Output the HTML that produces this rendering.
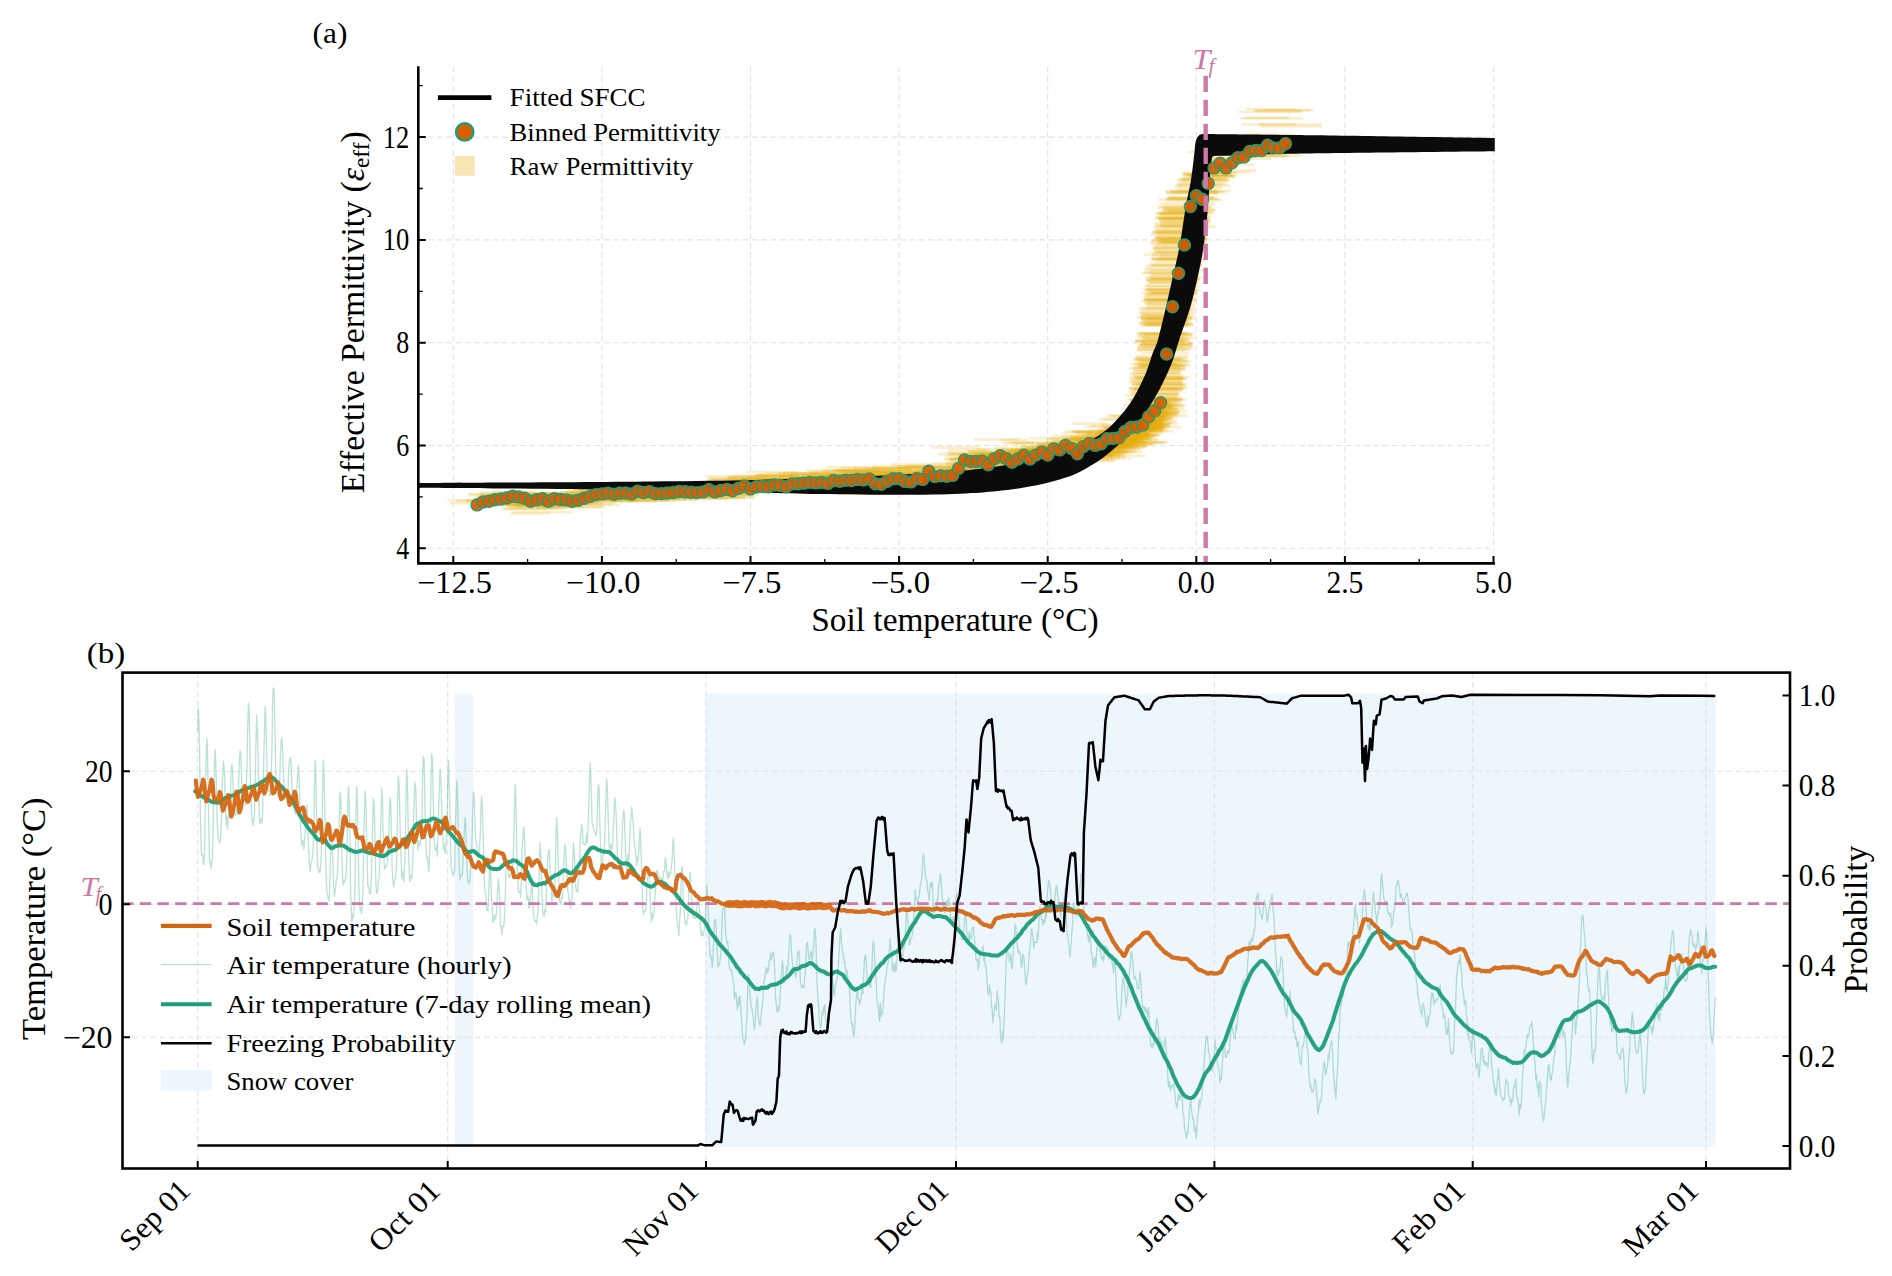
<!DOCTYPE html>
<html lang="en"><head><meta charset="utf-8"><title>SFCC fit and freezing probability</title>
<style>
html,body{margin:0;padding:0;background:#fff;}
body{width:1892px;height:1276px;overflow:hidden;}
svg{display:block;font-family:'Liberation Serif', 'DejaVu Serif', serif;}
</style></head><body>
<svg width="1892" height="1276" viewBox="0 0 1892 1276">
<rect width="1892" height="1276" fill="#fff"/>
<g id="panelA">
<path d="M453.3 66.6V563.4M601.9 66.6V563.4M750.5 66.6V563.4M899.1 66.6V563.4M1047.7 66.6V563.4M1196.3 66.6V563.4M1344.9 66.6V563.4M1493.5 66.6V563.4M418.3 548.3H1493.7M418.3 445.5H1493.7M418.3 342.7H1493.7M418.3 239.9H1493.7M418.3 137.1H1493.7" stroke="#e3e3e3" stroke-width="1.1" stroke-dasharray="5.9 3.37" fill="none"/>
<g stroke="#E6AB02" stroke-width="2.6" stroke-opacity="0.2" fill="none">
<path d="M447.3 500.3h55.3M490 496.1h58M541.3 503.6h42.9M570 497.9h32.7M580.3 491h57.3M636.1 493.6h27.6M635.8 493.8h55.9M638.9 488.4h50.1M662.7 491.6h39.2M722.2 488.6h33.5M717.3 483.7h34.9M746.8 487.2h39.3M772.8 485.9h26.3M786.8 484.8h26.9M803.1 480.1h45.5M826.4 475.2h39.7M837.5 483.3h45.1M893.9 476.9h26.2M891.7 477.3h43.5M924.3 471.2h31.5M940.9 469.1h36.2M977.6 466h27.1M978.8 454h48M1005.7 450.2h42.3M1014.3 455.3h52.5M1041 448h41.1M1075.6 441h31.7M1073.3 431.9h55.2M1102.6 426.8h39.3M1117.3 421.7h45.1M1122.6 418.4h50.2M842.9 471.3h67.3M707.3 479.2h46.9M743 484.1h66.8M754.3 487.7h48.1M820.4 480.5h55.2M880.6 475.4h55.9M744.1 484.4h38.7M873.2 481.1h40M825.6 476h52M918.4 479.4h50.9M825.1 482.1h57.1M787.4 479h62.7M593.3 492.3h40.9M700.5 490.2h62.2M612.7 492.1h61.3M524.2 500.4h37.6M505.3 503.4h68.6M685 497.3h38.8M683.4 482.2h53.1M1127.9 427.5h32M1135.3 414.9h18.2M1080.9 459.1h28M1102.8 442.3h32M1141.7 420.9h19.1M1137.7 431.5h18.5M1132.7 424h33.3M1136.9 421h17.7M1143.5 431.2h18.1M1127.4 425.2h34.9M1094.3 447.7h20.4M1120.5 425.8h30.1M1090.8 455.5h33.2M1097.6 458.5h33.5M1123.8 435.9h24.5M1114.8 444.9h15.5M1139.9 428.5h16.9M1102.1 446.4h32.2M1128 440.2h23.5M973.6 468.6h29.8M999.3 458.8h40.2M1057 445.9h49.7M1074 445.6h35M1017.1 451.4h42.7M1000.8 439.7h27.9M1138.4 398.4h44.1M1156.5 244.1h43.3M1154.2 240h47.2M1134.6 340.6h51.5M1153.8 251.8h45.2M1163.6 206.6h47.1M1152.3 232.7h54.3M1139.1 362.2h48.9M1168.9 212.5h45.2M1146 279.4h45.7M1157.2 230.4h49M1151.4 240.8h53.4M1133.8 377.1h46.8M1153.4 226.7h51.8M1150.8 270.2h53.2M1201.5 176.2h34.6M1242.9 140.2h32.2M1260.6 126.4h60.9"/>
<path d="M450 503.1h39.4M500.1 501.6h59M560.5 502h26.8M576 497.3h26.8M595.1 488.4h40.5M598 490.3h47M627.5 490.3h57.3M649.4 487.5h41.2M669.6 487.3h54.6M687.2 489.3h57.8M718.4 487.6h35.3M742.5 482.1h33.9M754.7 483.5h53.5M789.5 484.4h34M791.7 481.5h59.2M827.9 479.4h52.1M850.3 478.8h46.9M859.9 476h58.7M907 475.7h32.5M915.2 473.9h43.4M940.1 473.8h47.4M946 467.2h57.2M958.4 462.3h52.3M1013.5 450.7h45.3M1033.1 457.2h53M1029.7 438.3h59.2M1055.8 447.9h56.2M1075.9 439.3h53.8M1098.9 419.8h37.4M1103.7 429.9h49.8M1134.7 412.7h44.6M795.2 492.4h41.2M891.4 479.7h64.8M721.5 485h54M688.3 484.9h65.4M871.7 468.4h41.7M830.2 474.2h64.9M845.5 482h48.9M774.1 488.2h62M924.9 472.1h37.3M897.9 467.6h38.1M764.5 483.2h62.1M842.8 472.8h46.3M651.4 487.8h53.5M572.9 489.2h61.1M558.1 498.2h47.2M635.8 499.8h61M609.2 496.2h64.2M531 504.4h45.3M661.2 492.4h56M1141.8 415.3h33.6M1102.3 438.9h34.8M1105.1 434.8h30.6M1127.5 433.3h21.8M1087.9 444.1h28.7M1136.2 426.7h18.5M1128.8 432.1h15.8M1127.2 422.1h16.5M1147.2 405.3h23.7M1129 423.8h26.9M1112.1 426.1h30.6M1127.2 431.3h19.3M1087.1 451.3h19.3M1101.5 434.1h30M1110.9 436.3h15.4M1132.6 420.1h16.2M1099.8 440.3h35.1M1094.1 452.3h25.8M1089.3 444.4h25.5M1021.9 457.5h45.2M1032.3 446.5h45.6M1046.7 444.9h41.5M975.9 460.3h50.6M1000.4 458h31.2M1017.8 454.2h52.5M1151 234.4h46M1132.4 385.1h52.9M1160.7 242.6h46.1M1141.6 364.6h45.6M1157 208h53.6M1145.2 333.6h50.1M1161.3 216h50.6M1147.7 293.6h43.1M1130.6 405.4h51.9M1146.9 280h53.1M1141.8 311.9h54M1137.5 348.5h54.5M1134.3 389.9h44.6M1142.9 337.9h44.1M1182.9 176.3h51.8M1245.5 143.3h41.5M1192.1 158.3h49.4"/>
<path d="M456.2 501h28.2M513.3 494.9h33.5M551.4 500.4h26.3M587 498.2h26.8M602.3 498.2h39.2M603.3 493.5h30.8M647.4 489.7h53.4M664.9 490.4h35.7M676.2 489.7h29.8M698 491.1h33.6M710.1 480.6h56.7M732.4 483.9h59.1M761.1 490.1h41.5M783.6 481h41.4M799.2 484.1h52.7M825.3 475h57.5M864.4 475.8h31M883.4 473.6h42.5M907.6 471.6h29.5M902 471h44.2M931 471h57.1M953.9 468.2h43.2M997.7 462.2h36.2M1010.9 462.5h31M1025.7 454.5h45.4M1069.8 448.2h34.7M1075.6 432.7h28M1092.4 441.7h38.5M1100.2 431.1h40.7M1109.7 435.8h46.6M1135.4 415.6h52.4M765.1 486.5h42.4M762.7 490.1h53.3M818.6 477.6h49.4M863.1 476.7h66.1M839.8 481.9h63M853.5 468.2h53.3M824.1 480.7h55.8M906.3 474.4h57.2M731 484.4h45.4M807.8 475h44.8M747.3 483.5h63.3M924.7 471.3h41.3M513.8 504h68.4M576.6 501.2h59.8M545.8 499.4h58.4M599.8 488.7h50.6M605.2 497.9h46.2M676.1 490.9h68.6M647.4 493.2h41.1M1133.9 418h26.9M1112.6 436.4h27.3M1103.6 448h35.2M1150.9 411.8h15.8M1148 404.1h29.2M1101.7 452h35.1M1111.2 449.9h24.6M1142.2 410.6h14.3M1134.7 425.9h21.7M1132.7 436.7h20.8M1104.5 442h22.5M1126 441.5h17.4M1099.1 451.9h23M1117.5 444.7h17M1087.1 447.6h27.6M1078.3 454.2h34.2M1088.5 448.3h33.3M1108.3 437h32.3M1141.5 418.9h19M1051 448.7h31.9M1069.7 438h49.1M1084.3 438.7h27.5M1046.2 443.2h53.2M1062.7 438.9h26.4M1004.8 459.6h24.6M1128.8 378.9h54.1M1157.5 258.1h43.5M1183.2 178.4h43.9M1155 225.2h50.3M1134.7 358.3h46.6M1145.4 278.6h54.2M1130 388.9h53.9M1157.9 232.6h47M1145 277h52.1M1125.4 395.4h54.4M1166.8 197.9h47.7M1173.9 199h45.9M1157.8 241.4h46.7M1150.8 265h50.9M1136 403.6h46.1M1222.1 152.7h39.5M1253.7 149h30.6"/>
<path d="M473.4 499.3h31.6M506.3 497h33M546.9 498.4h41.9M565.8 497.3h43.2M584.8 497.2h58.9M591.7 496h53.9M638.7 489.8h35.1M653.7 484.8h30.4M671.6 489.8h48.9M692 492.7h57.7M731.4 489h27M726 482.9h53.4M772.1 485.5h44.5M782.7 480.1h29.7M799.9 483.1h45.4M829.1 478h46.4M854.2 481.1h57.1M872.1 477.1h42.6M895.7 475.8h38.9M922.5 475.6h47.4M926 467.3h53.7M986.3 472.1h27.3M983.8 462.5h40.5M1004.1 453.9h47.6M1020.8 446.5h43.5M1045.3 455h56.3M1085.7 437.4h33.2M1094.5 439h43.5M1103.1 418.6h56.5M1121.9 433.1h34.2M1138.4 405.9h40.9M732.9 482.9h58.1M913.1 482.9h44.3M841.3 468.1h55.9M839.3 473.4h37.4M888.6 479.1h39.7M813 484.1h41.3M790.4 477.6h39.7M715.7 485.1h55.2M811.2 481h45M705.2 488.2h41.5M759 488.4h63.2M882.4 468.1h66.7M575.7 492.1h43.3M562.6 498.3h58.1M681.9 494.5h42.9M610.5 492.3h71.3M535.7 507.4h65.6M502.9 505.5h57M561.2 492.3h36.8M1114.9 446.7h31.9M1143.9 402.1h22.7M1127 430.5h31.5M1122.3 427h30.4M1083.1 455.5h32.2M1130.2 427.7h34.6M1132.9 438.7h18.7M1139.6 428.2h26.2M1115.4 434.4h16.3M1090.1 455.7h15.7M1112.4 434.2h28M1132.9 427.2h34.5M1140.7 420.2h28.4M1106.2 453.4h18.9M1135.1 423.8h19.9M1142.1 417.5h24.1M1143.8 404.1h24.4M1135.9 424.5h33.1M1131.7 430.1h31.4M1053.5 453.3h51.3M1052 441.5h41.3M945.1 459.2h44.8M1041.9 458.1h33.2M1055.7 442.9h50.3M978.7 459.7h27.5M1182.8 174.5h54.6M1150.4 292.2h46.8M1154.1 239.2h53.1M1152.5 247.1h46M1130.5 405.9h46.7M1144.6 325.4h44.2M1178.6 179.8h51.5M1131.1 364h46.9M1137.3 340.6h51.4M1135.2 411.5h50.3M1135.6 406.5h48.1M1158.4 217.9h50.1M1167.6 209.6h46.4M1165.5 199h44.3M1165.4 192.4h52.6M1192.4 179h33.7M1206.2 160.7h36.9"/>
<path d="M471.9 501.4h26.2M502.2 501.2h54.1M549.5 500.8h37M572.5 488.7h52.4M588.5 496h49.7M613.5 488.6h45.6M637.3 491h33.2M666.1 492.8h36.1M686.2 487.1h47.7M709.4 487.9h33.2M702.8 484.6h58M759.4 482.7h27.5M772.7 489.3h29.1M802.6 479.5h29.2M835 482.3h40.9M828.6 484.7h53.2M862.3 483.9h27.1M877.3 481.6h34.8M890.9 471h50.6M912.4 472.7h39.8M947.1 452.5h30.8M965.1 462.6h37.4M995.1 466.1h28M1003.9 462.7h39M1022.5 461.8h32.4M1057.7 447.6h52.3M1071.4 449.6h34.7M1097.6 446.6h30.2M1109.5 425.9h27.9M1124.5 423.3h38.9M1132.4 408.4h31M827.8 484.5h58.4M785.5 481.1h46.7M770 482.7h42M754.4 476.3h43.2M767.2 483.3h37.8M758.3 482.9h60.2M741.7 478.6h39.7M872.3 466.3h59.7M813.8 487.9h71M756.4 482.5h49.9M914.4 477.9h54.3M758.3 481.6h45.7M703.2 486.3h45.4M615.1 493.7h45.1M588.2 493.6h48.9M670.8 491.5h47.6M535.3 498.7h39.3M696.3 497.4h59.1M572.7 498.9h67.4M1131.8 418.3h34.8M1117 426.1h35.4M1129.4 439.8h29.5M1135.8 437.5h16.6M1115 430.6h17.2M1149.4 415.3h15.6M1109.2 437.6h16.5M1137.6 429.6h27M1114.3 426.3h34.2M1078.9 454.5h16.7M1118.9 433.4h28.5M1130.4 420.2h33.6M1136 413.1h34.4M1107.8 438.8h23M1137.2 422.6h24.8M1100.8 438.7h25.4M1148.3 413.7h24.2M1093.3 436.5h28.8M1103.6 428.3h23.5M958.5 453.8h26.3M1037 455.5h40.1M1036 446.6h29.2M1053.8 447h28.5M946.6 465.8h45.1M977.4 461.8h52M1148.9 264.1h51.4M1132.8 389.9h48.9M1154.1 260.8h51.3M1128.6 400h54.2M1151.8 259h44.3M1151.4 256.1h46.7M1137.1 350h52.6M1154.6 237.8h49M1133.7 359.5h47.2M1155.8 262h44.4M1166.8 193.5h51.2M1138.5 365.4h52.4M1138 350h48M1128.7 381.9h54.1M1166.5 198.4h47.3M1204.9 164.4h33.3M1239.2 150.1h45.5"/>
<path d="M465.9 500.3h38.3M493.4 503.9h52.8M537.1 503.5h52.3M580.6 494.4h35M606.2 495h37.7M600.4 487.2h49.2M650.3 493.8h43.6M662.9 490.9h34.8M676.6 490.6h44.5M712.5 488h27.9M735.4 482.5h34.5M738.8 486.1h32.5M752.6 487.5h42.9M801.7 484.3h27.5M829.2 477.6h27.8M833 478.1h36.1M855 477.4h47.3M893.5 475h33.3M891.9 479.6h47.4M908.6 472.4h48.9M944.2 456.4h26.7M951.5 458h41.9M978.1 459.9h30.1M998.3 456.2h52.3M1024.4 453.9h49.5M1040.1 450.3h59M1066.5 443.9h59.1M1088.5 441.4h55M1083.6 449.5h57.3M1132.3 425.8h37.9M1145.7 419.3h29.1M705.2 476.4h50.3M892 479.1h52.9M889.4 473.8h47.1M896.1 468.3h62.4M762.9 479.3h42.7M732 483.5h51.5M893.2 479.8h44.7M757 475.6h42.6M700.7 487.7h55.7M737.4 485.1h57.2M913.1 472.9h40.4M567.1 505h53M538.9 506.5h45.1M687.4 486.6h52.5M508 508.2h51.4M614.5 496.6h35.9M512.6 502.1h63.6M511.3 493.4h47.5M514 501h56.3M1119.3 436.7h34.5M1096.7 447h32M1134.7 414.8h20.2M1108.3 434.4h28.1M1112.2 441.7h15.5M1106.9 454.7h14.5M1131.3 434.2h17M1142 421.6h15.9M1132.1 424.3h32.2M1116.9 431.2h35M1142.2 421.1h19.3M1102.4 450.1h19.1M1121.5 438.6h15.4M1122 435.9h15.9M1095.5 450.9h34.1M1111.5 433.2h29.6M1131 428.7h30M1135.3 432.6h15.3M1112.7 452.1h29.5M950.3 461.5h47.5M1004.9 443h29.2M1025.9 447.4h43.8M1062.6 436.3h38.3M1047.2 445.6h34M1040.9 453.3h34.5M1147.3 281.5h47.1M1129.3 374.1h50.8M1139.2 386.8h47.3M1146.3 287.9h50.8M1135.3 363.2h46.5M1161 210.5h46.8M1147.9 288.9h43M1129.6 377.4h53.7M1145.5 298.7h43.6M1134.9 342.1h51.3M1133.1 399.4h53.8M1150.6 279.9h43.7M1144.5 322.9h42.9M1183.2 173.9h48.1M1141.2 343.2h51.8M1240.6 154.5h44.8M1237.8 158.6h33.5"/>
<path d="M468.4 495.1h46.6M503.7 497h56.4M553.9 497.7h34.4M577.8 489.2h35.2M594.1 492h28.5M615.5 490.1h30.6M632.7 491.3h53.5M637.4 491.6h44.7M678.1 486.6h33.9M698.1 486h56.1M714 487.6h57M743.2 482.4h57.1M765.6 481.6h43.5M787.7 482.1h50.6M820.5 478.7h47.4M836.8 471.3h52.2M864 484.7h28.3M882.2 479.1h29.8M905.2 476.5h39.1M924 479.5h30.2M931.7 447.4h48M966.5 473.5h33.2M976.9 456h56.7M999.1 462.9h28.2M1038.1 453.2h39.6M1035.9 445.7h51.3M1087 433.7h29.4M1080.8 443.3h38.8M1099.4 431.4h47.2M1119.9 421.4h44.7M1123.3 405.2h54.2M880.8 478.8h35.8M875.6 475.7h48.4M846.2 471.9h48.6M709.1 485.7h62.3M855.6 481h47.2M914.2 472.1h51.3M715.7 487h53.1M801.8 475.8h39.7M865.8 470.1h58.2M885 477.5h61.8M691.2 492.1h63.3M681.5 489.2h57M513.9 496.2h50.2M653 498.8h43.6M575.9 496.4h50.2M706.9 491.5h46.8M700 497.6h44.9M597.1 495h42M542.8 507h61M1095.2 436.1h19.7M1101.1 445.9h18M1094.4 456.9h31.2M1146.2 414.4h30.8M1124 447.3h15.1M1143.4 419.7h19.9M1099.7 453h27.9M1084.9 455.5h22.8M1156.4 400.8h19.6M1135.6 428.4h18.1M1079.3 454.3h24.1M1130.7 428h18.9M1146.5 413h20.5M1128.3 422.6h21.9M1123.6 427.9h29.1M1128.5 432.2h15.8M1098.3 441.2h16.6M1143 424.7h21.5M1147.3 410.8h21.3M1035.7 444.2h42.8M968 451.1h24.6M1078.7 450.8h36.7M976.4 454.9h51.4M1068 440.6h48M1069.6 446.1h49.4M1168.3 197.2h44.7M1139.9 310h53.5M1155.5 252.4h47M1181.6 181.2h46.8M1140.6 314.1h44.2M1145.8 313.8h47.6M1158.7 199.6h51M1141 300.7h45.1M1151.4 259.2h49.3M1156.5 238.7h50.6M1134.6 388.3h43M1161.8 206.1h50.1M1158.4 206.5h54.2M1154.6 223.1h54.3M1146.6 265.7h53.8M1190.1 175.8h36.2M1202.5 164.7h51.7"/>
<path d="M472.4 499.1h37.7M514.9 499.4h42.1M556.3 501h43.1M570.8 491.7h56.5M599.3 493.4h31.6M612.4 491h54M635.4 498h49.6M658.4 491.7h31.5M687.9 487.7h36.3M699.7 485.3h59.4M722.7 483h50.7M746.2 489.3h41.1M775.5 481.8h42.5M793.7 480.9h28M804.7 476.1h48.2M834.9 478.5h54.3M837.6 485.6h53.4M865 478.7h52.4M899.7 474.9h52.5M934.3 471.4h28M950.3 460h30.9M964 469.7h44.6M977.9 459.3h39M1000.6 451.1h53.7M1046.8 451.8h27.6M1054.8 441.2h36.1M1081 448.1h28.1M1095.6 438.4h55.2M1118.2 437.3h28.5M1109.3 430.7h59M1135.2 401.3h33M756.7 475.1h65.7M727.8 480h70.3M810.7 473.7h46.3M885.1 480.7h45.7M802.3 477.7h48.6M733.2 481.8h61.4M824 476.9h43.7M705.7 490.6h39.6M839.8 482.3h48.6M909.8 476.8h57.1M767.2 479.8h71M590.7 489.4h56.3M616.1 493.3h48.6M519.8 501.9h68.7M627.2 497.9h64.6M544.5 496.5h66.3M683 489.3h60.1M665.4 486.2h46.3M515.3 505.9h44.4M1142.3 421.8h19.2M1147.3 410.8h24M1116.6 444.9h17.3M1111.1 445.2h34.4M1143 424.1h16.6M1116.9 448.2h17.8M1133.7 423.4h23.7M1069.4 454.3h30.2M1122.1 442.3h14.7M1092.7 437.1h20.8M1137.7 424.3h16.3M1081 452.5h23.7M1103.5 440.6h35M1133.6 429h23.6M1112.9 436.7h29.6M1115.5 441h24.6M1139.9 404.9h21.5M1133.7 424.4h31M1137.7 419.2h18.3M1084 435h33.8M989.7 462.1h38M1002.3 442.7h31.3M1053.9 447.6h28.2M966.3 456.3h29.3M1038.8 453.6h34.5M1135.6 378.6h49.8M1132.1 413.8h45.4M1160 203.4h54.6M1129.5 388.4h52.3M1188.2 176.4h45.7M1133.1 375.5h50.7M1147 286h53M1156.7 240.1h47M1157.2 237.6h44M1160 255.7h43.1M1147.9 324h44.3M1138.1 367.8h48.3M1138.3 359.5h45.8M1136.4 372.5h43.7M1149.3 277.7h53.7M1247.6 155.7h53.8M1194.4 160.6h39.4"/>
<path d="M466.1 501.1h54.4M506.3 496.8h37.2M556 504.3h56.5M585.8 492.7h31.1M586.7 487.9h55.1M616.6 493.6h47M639.4 492h42.3M666.4 489.2h42.7M674.3 489.6h47.3M702.8 486.3h32.3M739 485.9h46.4M749.8 486h57.6M774.2 480.6h32.7M778.6 484.4h57.8M819.1 479.6h27.3M831.3 478.6h50.8M863.4 479.9h28.3M873.4 479.8h47.1M900.8 479.9h47.2M932.7 475.7h26.6M948.9 459.1h37.7M964.4 462.8h53.7M983 472.4h58.8M998.7 462.5h58.7M1038.4 443.9h29.7M1058.6 461h29.7M1080.6 446h58.7M1088.9 430.4h43.2M1124.1 435.2h26.8M1127.4 428.3h31.4M1126.1 425h26.5M826.5 476.9h53.4M759.1 483.4h54.7M715.6 486.1h40.2M706.7 480.5h68.8M723.2 482.1h71M689.5 483.2h63.7M821.8 471.2h56.7M878.6 473h46M749.8 479.1h69.1M714.8 481.8h47.8M754 482h36.7M684 490.4h48.5M499.3 504.2h55.1M602.3 500.1h64.7M563.6 500.4h68.6M621.5 499.2h37.5M538.3 495.1h37.2M511.4 503.1h55.3M620.4 493.3h57.7M1101.1 449.2h24.8M1142.2 421h16.4M1120.6 430.3h30.1M1131.5 427.7h31.5M1105.2 447.8h21.3M1134.3 423.4h15.2M1086.3 450h24.3M1078 445.7h24.1M1105.7 432h21.3M1114.3 439.8h29.9M1095.6 451.7h19.2M1094.4 442.6h26.7M1137.6 424.8h32.4M1097 446.5h28.7M1108.1 439.9h16.3M1107.6 445.1h21.1M1100.1 443.1h35.5M1144 416.3h19.6M1128.7 442h17.3M1055 446.1h28.6M1015.2 460.1h34.2M973.9 439.6h44.8M1047.9 457.4h41.2M1007.2 453.9h51.4M1031.7 454.3h31M1160.4 221.2h49.6M1141.2 318.4h51M1141.7 337.8h53.1M1155.1 236.6h46M1161.9 207.7h47.3M1152.1 254.1h45.6M1141 365.6h43.1M1160.6 218.4h50.4M1162.5 212h45.7M1142.4 308h46.8M1147.9 300.3h45.4M1161.7 242.3h44M1134.8 408.8h49.7M1147.5 305.3h47.7M1149.5 277.9h48.3M1188.2 152h54.3M1197.8 155.2h44"/>
<path d="M476.5 495.9h42.3M528.2 496.6h39.3M546.1 503.6h43M566.2 490.6h49.5M609.6 493.1h34.2M620.8 491.5h26.3M655.2 492.4h42.5M670.4 489.6h59.3M692.6 491.3h28.5M710.5 484.5h27.2M720.4 488.9h38.2M757.3 483h46.8M745.3 478.6h58.6M786.1 478.6h59.3M813.8 477.4h40.5M834.7 480.9h29.7M838.9 477.7h57.6M867.6 480h39.3M891.9 480.3h46.2M929.1 478.4h49.4M950.5 453.6h52.5M965.4 469.8h35.2M988.1 467.4h29.6M1020.1 455.6h36.4M1037.8 455h31.4M1055.7 455.5h30.3M1070.6 436.1h37.5M1097.3 447.2h26.8M1108.4 415.3h52M1134.2 411.5h40.8M703.6 482h55.8M823.2 479h45.2M782.9 481.4h50M859.8 475.2h45.7M846 480h62M871 477h38.7M794 487.2h45.8M713.8 481.7h50.2M851.4 471.9h49.2M851.4 487.9h46.5M730.5 490.4h42.4M732.2 484.7h37.8M653.6 484.7h66.5M608.7 500.6h60.3M553.4 501.3h41.8M529.3 498.1h70.3M554.7 498.3h66.6M675.5 490.7h46.1M660.1 494.1h56.9M636.2 494.2h64.7M1141.8 413.4h28.9M1121.3 425.6h32.7M1100.4 448.2h20.9M1116.2 433.5h18.2M1129.1 435.7h18.9M1100.4 445.6h21.9M1114.4 439.6h28.7M1091.7 458.1h28.2M1133.1 432.7h30.8M1085.3 455.4h34.2M1122.8 435.5h16.8M1147.3 401h22.9M1136.2 417.1h28.2M1098.9 445.7h22.2M1130.3 442.2h18.4M1118.6 438.8h29.5M1092.4 438.8h32.6M1092.5 442.4h21.3M1142.6 409.3h35.7M999.5 450.5h42.1M1011.5 442.3h51.4M973.9 461.8h29.1M997.1 459.4h51.5M1005.7 449.9h47.1M1084.6 426.5h25.7M1151.8 279.3h47.7M1184.6 174.6h46.8M1143.9 272.6h54.3M1144.1 297h51.3M1133.7 405.5h52.3M1159.8 223.8h48.2M1141 333.4h43.6M1147 298.1h47.3M1133.3 394.4h45.8M1136.4 383.7h50.8M1135.1 395h43.9M1146.2 299.8h50.5M1150.1 292.9h45.7M1179.2 184.1h47.7M1146.5 281.2h51.4M1178.2 190.8h52.5M1199.4 170.4h57.1"/>
<path d="M475.8 497.8h37.6M493.3 503.8h50.3M560.9 503.2h41.2M566.9 492.8h49.1M598.9 492.9h31.4M614.6 490.2h42.9M646 494.7h30.8M684.1 492h32.6M686.1 492.1h39.1M702.8 489.7h38.6M739.7 487.7h32.7M764.8 483.5h30.9M775.8 483.7h57M810.2 482.4h32.6M832.3 487.8h30.5M840.3 478.3h37.3M854.6 481.2h29.9M882.9 479.2h55.7M895.6 483.3h56.4M933.5 476.8h33.6M959.9 456.2h46.4M969.1 478.7h47.9M997.6 464.4h31.2M1008 464.8h38.7M1022.6 452.7h43.4M1065.3 456.8h34.1M1075.6 443.5h53.9M1095.3 433.4h32.2M1118.9 418h53.1M1128.3 418.3h40.8M805.7 470.5h54.9M838.8 493.6h56.2M711.5 480.1h48.2M778.3 473.6h67.1M889.5 479.7h37.6M863 471.9h39.5M846.4 482.4h47.7M709.7 491.8h55.3M723.2 479.4h60.3M864 477.3h58.3M807.8 471.7h68.6M799.5 480.4h69.2M539.4 492.5h46.3M704 486.3h49.9M663 499.2h65.2M649 498.4h47.4M670 491.2h42.9M545.2 504.1h55.7M601.1 489.9h39.1M561.5 494.7h68.5M1130.1 434.7h31.2M1118.8 444.2h33.4M1078.7 452.1h35M1139.6 425.5h28.6M1133.9 418.5h31.6M1147.4 413h16.5M1131.4 424.8h29.1M1096.7 447.1h35.2M1146.8 414h16.5M1108.9 438.6h32M1081.4 454.5h34.3M1134.6 410.9h19.3M1121.3 429.6h28.3M1147.1 407h28M1136 421.8h19.2M1131.5 427.8h34.1M1112.6 435h21.6M1082.6 450h15.8M1121.3 430.4h33.7M992.8 454.3h26.3M1034.2 454h35.3M972.5 464.5h25.5M960.4 458.9h32M973.3 454h50.7M946.4 463.4h38.9M1149 283.3h47.8M1137.5 350.3h47.6M1157.8 259.1h45.1M1169.5 198.4h48M1158.8 218.9h48.5M1159.5 213.7h43.1M1133.1 397.2h44.7M1152.7 274.9h42.8M1131.5 393.8h46.4M1138.9 345.3h49.3M1132.3 367.7h52.6M1153.7 248.6h54.2M1138.4 345.4h54.6M1163.1 209.4h45.6M1176.9 180.6h50.3M1231.1 155.7h59M1246.8 152.9h55.4"/>
<path d="M480.8 499.2h31.5M536.9 497.1h31.2M548.5 502.1h57.5M568.6 494.4h57.4M598.3 494h58.2M618 495.1h28.4M636.1 493.8h54.1M671.7 488.7h29.2M694.2 488.2h26.5M707.6 489.2h26.2M733.5 487.8h28.3M757.9 483.4h46.1M769 487.1h46.8M773.9 478.9h58M825 479.4h26.9M832.3 478.5h54.3M857.7 476.3h53.2M885.7 477.9h34.9M903.9 482.7h51.1M929.3 475.6h43.7M955.5 460h55.9M969.1 463.6h36.7M983.7 461.7h48.9M1014.3 457.9h56M1020.3 447.5h59.1M1064.6 448.9h26.6M1081.2 446.9h40.6M1085.4 434.1h53.4M1113.4 416.3h27.3M1128.7 425.2h33.6M919.2 477.7h54.1M793.6 483.1h40M754.9 476.5h42.5M895.1 480.5h40.4M853 482.6h50.9M805.6 478.7h51.2M790.2 479.7h59.4M850.9 474.8h62.7M868.6 480.5h69.5M772.3 486.1h55.3M745.1 486.4h47.3M782.9 481.7h41M509.9 513.5h39.6M565.5 502.4h50.6M677.3 491.1h66.6M508 496.5h62.6M508.1 504.6h54.8M522.6 503.3h68.2M639 493.3h40.4M1068.6 459.3h34.4M1127.2 419.6h34.4M1135.6 417h15.9M1151.9 402.2h18.3M1147.3 416.9h17.1M1129.4 420.1h14.9M1095.1 455h17.6M1124.4 425.2h17.3M1126.4 430.7h21.8M1140.8 428h21M1099.7 445h32.6M1129.9 426h15.8M1120.8 433.3h25.2M1123.8 427.3h31.4M1127.3 441.7h29.3M1088 459.9h28.5M1144.5 406.8h27.5M1100.9 435.1h23.2M1083.4 454.3h30.1M1122.4 436h30.5M974.3 455.1h33.2M1024.2 448.9h47.1M1015 444h44M955.2 461.8h49.7M1022 451.6h52.6M956.3 460.4h48.6M1135.6 357.5h51.8M1153.1 248.3h47.9M1145.4 289.3h48.5M1138.9 312.9h46.5M1189.6 176.2h43.4M1137.2 361.6h54.2M1139 344h46.1M1163.5 221.7h45.8M1144.9 303.2h47.2M1159.1 219.4h44.2M1143.8 314h45.8M1142.7 320.2h47.8M1166.2 200.5h44.3M1135.3 341h48.6M1143.5 285.8h51.2M1196.3 172.2h54.5M1198.9 160.2h37.4"/>
<path d="M492.3 491.7h43.7M530.2 493.9h31M547.7 500.9h57.5M588.7 495.9h28.9M604.4 488.9h34.3M626.9 491.6h28.6M645.4 487.7h54.1M666.1 490.5h45.1M689.4 489.6h58.1M707.5 490.2h58M726.6 484.7h37M766.3 485h26.5M781.9 482.1h52.3M788.7 480.6h52.4M835.1 476.8h29.7M830.1 479.7h44.6M860.7 487.6h47.2M886.4 476.9h38.8M907.7 472.5h50.2M910.2 473.9h39.2M943.7 459.2h32.7M964.4 460.9h47.3M997.6 452.5h29.1M1013.8 453.6h26.2M1037.3 445.9h45M1072.1 454.4h27.4M1077.8 440.6h45.2M1097.6 434.6h49.4M1096.7 431h48.7M1123.7 413.4h31.3M813.4 479.1h48.4M736.6 482.7h39.2M755.2 481.4h59.4M753.6 475.3h59.3M805 475h62.8M729.4 483h68.5M884.3 472.8h46.2M727 477.4h39.3M697.1 487.8h53.6M788.9 476.3h47.2M860.1 480.6h59.9M740.1 483.3h41.4M706.8 481.8h41M701.9 494.7h50.3M501.2 508.5h64.8M569.7 500.4h67.8M574.2 500.3h56.5M560 495.8h64.2M615.2 497.2h59.3M1119.7 439.4h19.5M1137.2 422.5h28.2M1130.5 445.2h22M1111.9 436.5h21.1M1112.1 433.2h25M1137.3 414.7h23.3M1132 442.6h33.8M1146.7 416.5h19.4M1086.1 450.3h32.4M1124.1 434.9h34.9M1142.9 423.8h14.5M1099.2 444h32.9M1145.8 431.1h27.6M1147.7 411.3h15.9M1151.2 404h20.7M1125 428.6h26.7M1093.6 457.3h20.2M1143.8 414.6h14.5M1097.8 451.1h31.4M1144.3 427.5h18.7M1015 449.5h36.8M982.8 461.1h34.6M948.6 468.9h40.9M1002.1 454.2h45.5M1045.3 450.9h49.2M1029.3 453.5h53.3M1140.6 356.2h43.9M1135.1 377h54.6M1137.1 333.2h49.8M1182.6 179.3h46.1M1140.3 322.8h52M1152.9 249.8h48.4M1172.4 192.4h54.6M1155.5 214h50.2M1159.9 224.2h45.5M1165.5 238h43.1M1136.2 356.4h51.6M1138.7 324.2h50.5M1163.5 209.8h52.4M1140.7 319.2h46.6M1177 185.9h53.2M1247.9 148.7h50.1M1187.7 200.2h34.4"/>
<path d="M489.9 496h27.1M511.2 494.4h48M535.5 499.4h57.6M564.9 492.2h54.9M599.2 490h38M621.6 491.8h33M642.5 487.7h49.9M670.7 487.4h39.9M695.4 492h42M722.7 485h33.1M722.9 482.6h59M754.2 485.8h32.3M767.1 482.3h54.3M794.8 481h37.8M817 481.8h45.6M836.2 484.8h43.6M856.6 483.5h29.4M879.4 478.4h41.5M906.5 465.6h49.5M933.2 474.7h52M931.8 463.7h50.8M978.1 458.5h50.2M1011.5 460.4h26.7M1007.5 455.5h45.7M1033.3 450.5h40.3M1044.2 450.5h57.2M1072.7 441.6h51.8M1096.6 437.4h46.1M1098.1 428.8h56.9M1121.5 420.2h48.6M831 479.6h48.2M732.2 484.5h54.3M777.3 479.8h41.2M775 479.6h50.4M700.3 486.6h60.7M837.3 476.5h58.1M793 480.7h55.8M883.5 476h49.6M885.9 472.5h64.2M917.6 471.1h52.8M778.2 484.6h37.7M695.6 494.5h63.4M658.2 493.2h39.1M518.8 498.5h71.3M529.6 495.4h41.2M663.8 494.4h36.6M568.6 494.5h64.2M703.7 493.3h49.6M537.9 498.2h41.7M1132.5 422.9h28.8M1141.1 418h21.5M1129.4 422.2h27.8M1122.8 437.7h16.6M1138.4 415.9h28.6M1083.9 448.4h27.7M1137.5 418h24.5M1155 404.8h19.2M1092.2 461.2h22.1M1097.1 439.7h25.6M1095.9 449.5h33.6M1144.8 417h32.6M1099.1 442.8h32.1M1142.3 416.6h26.5M1102.5 431.9h31.8M1090.1 444.7h27.8M1075.5 448.2h35.3M1134.6 429.7h27.2M1149.7 408h20.9M948.3 449.9h38.7M1078.4 434.7h38.2M1069.4 438.3h39.8M1001.2 449.6h50M1039.8 453.1h26.7M1011.8 458.6h26.7M1034.7 460h45M1143.4 299.3h47.4M1174.3 192.4h44M1140.5 360.9h46.1M1170.3 191.9h52.9M1164.3 211.2h49.3M1134.7 366.9h44.9M1138.1 308.3h52.3M1130.8 384.4h52M1131.1 412.7h46.7M1159.8 239.7h47.2M1129.5 391.1h54M1137 317.5h49.6M1155.3 246.6h49.3M1144.7 268.1h54.6M1130.3 400.2h52.2M1243.7 134.7h46.6M1246.2 109h50"/>
<path d="M480.5 505h54.9M515.4 502.1h30.5M572.1 498.5h30.2M577.5 495.1h44.6M603.4 489.4h42M633.7 491.9h42.6M659.2 490.2h38.5M664 493.9h38.7M668.2 488.5h58.1M718.8 492.7h53.5M739.9 485.8h29.4M757.5 484.7h52.6M788.5 482h33.4M792.7 481.4h56M820.2 482.2h46.9M839.2 479.5h58.3M872 480.1h36.8M876 486.3h51.2M896.6 466.9h47.5M935.4 472.5h41.8M939.9 471.4h44.6M978.3 454h27.8M990 459.7h50.6M1029.5 450.8h27.6M1045.2 441.6h53.4M1065.8 439.4h30.8M1090.2 444.5h28.8M1095.5 445.6h49.5M1118 431.4h43.5M1127.7 427.1h53.5M915.3 477.3h39.2M887.8 483.2h37.9M847.5 475.2h65.4M836.7 478.1h65.9M867.7 476.2h70.2M909.8 477h44.4M775.8 480.3h47.2M727.8 477.6h63.3M698.8 483.2h59.9M779.7 480.6h48.1M790.6 473.8h47.6M746.4 477.1h58.4M535.8 502.4h47.8M503.3 509.2h44.7M544.8 496.8h64.3M615.1 499.3h65.6M547.5 497.2h37.5M509.7 507.4h43.6M687.1 496.4h66.8M1099.7 448.2h18.5M1132.8 424.3h14.4M1110.3 448.2h33.7M1101.3 447.7h34.9M1129 438.2h20.1M1133.8 430.8h25.2M1137.9 418.1h26.3M1114.3 434.7h27.8M1108.4 440.6h27.2M1131.3 443.9h23M1095.4 450.7h28.4M1094.6 440.3h19.4M1104.3 437h19.1M1102.3 446.9h19.3M1126.8 422.2h26.9M1104.4 443.5h25.7M1142.6 409.4h27.5M1139.5 409.8h32.4M1125.1 423.2h33.5M1067.9 431.4h39M1073 445.2h41.4M987.9 462.1h28.5M1020.7 452.7h51.8M1010.4 453h43.2M1066.4 439.5h45.9M938.4 454.1h52.6M1139.2 333.6h50.8M1142.8 293.3h50.8M1141.7 293.2h50.7M1144.1 334.6h47.9M1143.4 321.1h45.9M1150.7 258.8h50.5M1141.8 346.8h51.5M1141 344.1h50.9M1128.6 388.5h54.6M1133.1 371.3h47.7M1139.8 316h44M1146.3 290.1h54.3M1162.9 218.3h46M1138.2 365.7h43.9M1129.9 407.2h45.6M1202.4 161.5h33.7M1238.3 111.7h62.2"/>
<path d="M484.1 497.6h38.4M531.8 493.4h47.8M557.8 500.1h34.2M588.5 491h30.5M604.2 493.7h43M599.6 493.6h48.9M641 499.3h45.8M677.8 491.7h35.4M700.8 489.4h26.9M722.1 490.5h41.9M738.9 489.7h41M764 484.9h29.5M774.6 485.3h38.9M802.2 482.2h30.9M808.4 482.1h57.3M860.3 477.5h26.7M865 480.8h34.7M884.2 482.4h37M896.7 473.2h47.1M914.1 476.7h58.2M960.6 461.9h30.8M972.1 459h32.5M986.8 458.3h51.9M994.7 450.4h55M1041.9 446h27.4M1043.7 448.8h57.1M1075.3 437.7h42.6M1090 426.2h50M1109.3 443.6h35.7M1114 428.4h50.9M780.4 485.5h50M692 491h63.1M723.9 481.4h51.5M771.3 484h58.1M837.2 469.7h55.1M733.8 485.4h36.7M789.6 476.8h70.3M720 484.2h63.3M783.1 472.9h52.6M733.5 480.1h35.9M803.9 475.9h57M766.4 481.5h64.2M685.1 494.2h61.2M627.2 500.8h49.1M607.2 492.3h51.8M584.7 494.1h52.6M562.7 500.3h54.7M618.7 490.5h39M604 487.6h41M1104.7 440.7h21.3M1126.8 444.3h14.6M1123.6 435.2h22M1110 438.2h18.6M1136.7 414.1h31.1M1130.1 434h19.1M1125.8 431.2h18.7M1139.7 436.2h15.1M1147.8 409.2h30.7M1142.2 417.9h29M1103.2 452.6h17.3M1094.5 448.3h32.8M1150.4 408.6h21.2M1113.7 443.3h25.5M1106.2 455.5h14.6M1139 417.9h14.9M1114 435.5h15.7M1140.9 422.2h20M1136.4 429.1h20.9M1071.8 450.1h40.4M969.9 458.3h28.8M1046.6 438.8h24.4M1056.5 439.2h51M985.1 460.8h34.8M977.4 465.8h37.5M986.9 454.4h40.7M1158.4 213h48.2M1143.8 294.9h52.4M1135.3 369.9h49.1M1129.1 368.2h52M1156.2 232.8h48M1131.2 381.8h50.1M1136.8 359.7h43.9M1155.9 217.7h48M1134.1 364.2h43.2M1135.7 385.1h49M1127.4 399.2h51M1161.9 226.9h54.6M1146.8 318.2h45.1M1132.6 401.3h47.8M1138.8 322.6h45.5M1239.8 135.1h56.1M1241.9 124.6h54.6"/>
<path d="M479.6 494.8h43.9M529.8 506.1h40.6M558.9 493.7h52.2M584.5 494.7h29.8M611 489.9h29.1M631.2 490.2h47.5M665.9 493.7h35.3M671.8 489.9h42.9M688.9 494.7h40.1M717.3 493.8h32.6M733.2 485.4h46.8M755.7 486.9h47.4M778 481.4h50.3M818.2 487.2h33.1M831.5 479.2h29.3M852.4 479.2h50.9M868.7 481.3h38.4M881.6 477h48.2M904.5 467.1h52.2M924 477.4h53.4M960.7 463.3h41.7M970.9 452.6h48.1M994.9 461.3h50.4M1003.2 455.6h54.5M1043.9 448.9h28.9M1063.8 442.6h41.2M1089 439.6h46.5M1106.4 434.3h42.6M1122.9 431h30.2M1121.3 416.2h52.3M812.5 485h70.1M772.8 482h41.7M885.6 474.4h48.3M730.9 475.9h61.8M752 478.2h50.3M874.6 474h42.3M891 464.6h70M715.7 485h36.2M723.1 480.5h66.8M889.5 481.1h55.9M744.5 482.5h68.7M804.9 483.2h39.5M686.1 491.6h44M541.9 499.8h65.7M512.7 512.3h60.5M682.9 497.4h53.9M587 498.8h45.4M591.3 495.7h59.9M517.5 499h53.4M1150.5 394.1h24.5M1090.8 445.2h27.2M1148.4 394h28.9M1142.4 426.7h27.9M1136.8 413.6h30.4M1136.2 405.7h34.8M1103.4 428.3h29.5M1094.7 436.8h15.1M1069.6 449.9h29.1M1151.4 403.6h20.4M1088.6 442h28.2M1097.8 439.5h34M1121.8 442.7h14.8M1130.3 417.4h27.6M1128.8 433.3h15.8M1132.4 423.9h28M1139.6 422.8h16.1M1115.3 443h22.4M1140.6 420.2h26.8M965.9 466h36.4M956.6 463.8h35.8M976.8 449h28.1M1023.6 448.6h35.2M1072 423.6h36.5M1062.7 432.6h28.5M945 470.3h41.3M1151.3 293.1h44.9M1143.8 344.1h48.4M1137.1 348h52.1M1146.3 324.2h48M1186.9 174.8h45.3M1132.2 373.2h49.3M1165.5 191.2h53M1158 252h44M1152.1 231.8h47.5M1142.2 342.2h48M1149.1 272.7h48.7M1143.9 302.2h51.6M1150.1 243.5h50.3M1155.8 212.6h52.7M1152.4 244.4h46.7M1199.8 166.6h33.3M1254.5 110.2h55.3"/>
<path d="M500.6 496.6h33.6M535 494.4h33.2M563.8 495.9h50M584.6 492.4h32.9M612.4 492.5h26.9M622.3 489.3h34.6M646.1 490.8h53.9M673.6 494.8h33.3M686.5 491h56.9M730.6 493.3h27.2M736.6 487.7h54.3M761.1 483.1h49.3M779.4 482.2h44.9M803.2 481.7h36.8M823.6 484h52.2M850.1 473.4h37M876.8 484.2h42.9M902 480.9h40.8M915.9 471.3h34.5M942.7 472.7h36M955.1 457.8h42.7M966.3 456.1h46.5M979.4 452.7h49.8M1011 449.2h56.6M1036.3 443.6h55.1M1053.9 451.7h42M1089.2 442.3h45.6M1104.9 443.7h30.2M1124.9 442h43.3M1125.5 420.8h30.4M805 482.4h51.4M761.4 485.6h39.2M859.4 481.4h49.1M863.2 471.1h37.1M742.9 480.9h46.7M832 479.7h65.8M828.5 485.6h64.6M833.4 470.3h43.3M839.6 479.2h38.4M768.2 480h41.7M812.8 475.7h70.9M867.4 467.7h38M659.3 493.5h60.3M653.7 491.4h68.1M591.7 486h52.7M666.4 491.2h59.6M667.2 494.9h46.1M515.8 505.5h65.2M616.2 496.3h39.9M1119.1 434.1h30.9M1121.5 441.8h21.4M1126 427.2h23.8M1138.5 418.5h21M1118 425.6h33.5M1106.3 440.2h35.4M1141.7 408.8h35.2M1085.6 452.2h19.4M1127.5 428.8h25.4M1148.9 412.3h14.6M1129.1 432h19M1117.5 432.6h29.9M1118.1 430h17.7M1118.8 429.9h28.6M1074 458.3h18M1131.1 421.1h27.4M1120.2 444.7h16.3M1094.8 443.5h19.1M1138.8 421.3h25.4M1031.1 457.2h31.5M994.7 469.5h36.4M982.9 454.1h25.5M1047 445.1h23.9M1018.7 457.4h47.8M1037.9 451h40.2M1065.1 438.9h24.2M1132.7 397.9h43.8M1132.1 380.5h48.5M1143.3 289.7h45.8M1145.7 318.6h49.9M1135.7 414.1h43.9M1134 382.3h48.5M1131.8 380h51.1M1141.7 315.1h48.9M1145.5 339.2h43.7M1133.4 359.6h54.3M1133.6 369.6h48M1151.3 241.9h54M1145.3 269.9h53.8M1141.6 273.1h49.7M1146 272.9h54.1M1234.8 156.6h52.5M1244.6 117.6h44.2"/>
<path d="M479.2 492.5h54.5M527.6 497.8h34.2M553.8 497.9h55.5M584.1 492.9h51.4M604.1 492.6h45.6M628.8 490.7h45.1M657 492.8h34.5M661 491.5h39.5M706.7 490.7h37.4M724.2 491.2h51.7M718.9 486.4h54.1M764.3 486.1h36.4M775.7 482.2h54.1M814.5 479.9h31.5M821.3 481.6h26.5M848.3 475.6h34.1M890.2 477.2h27.2M891.5 480.1h30.3M901.6 479.1h46.8M918.3 476.1h53.9M969.7 471.4h26.4M960.3 461.1h49.3M1005.7 470.5h34.6M1009.3 453.1h44.6M1040.2 457.5h56.4M1077.8 448.5h33.5M1069.3 438h50.5M1096.1 441.1h45.9M1104.9 428h43.9M1107.6 416.2h51.6M834.6 470.9h54.6M899.1 479.5h51.7M910.4 470.1h53.7M706.6 484.6h46.5M729.5 484.5h44.1M897.5 469.7h65.3M711.2 487.5h46.3M754.8 482.6h67.4M766.8 479.1h56.7M705 486.1h61.6M709.7 489.9h47.4M847.7 484.7h37.8M507 505.8h51M505.6 503.5h58.7M660.7 493.2h59.9M648.7 494.8h59.9M646.5 492.1h51.9M515.5 488.1h69.2M595.1 492.2h53.7M1147 414.6h18.5M1101.1 451.8h27.5M1132.5 415.3h30.3M1095.9 445.8h26.2M1141.6 416h28.1M1087.1 453.1h24M1115.2 436.9h31.6M1140.9 410.5h34.2M1118.1 443.1h28.1M1109.8 446.8h18M1089.5 436.8h17M1090.2 455h18.7M1141.5 410.9h19.8M1135.6 413.9h28.8M1135.1 421.5h19.9M1141.6 413.6h28.4M1145.8 403h30.7M1139.8 422.6h33.3M1119.6 446.3h28.5M983.4 462.9h37.7M998.5 457.5h28.3M975.1 458.1h50.8M1062.2 444h23.9M1050.3 457.3h35.7M1001 452.9h37.8M978.8 453.7h26.8M1144 334.5h47.8M1131.5 384h49.7M1170 191.1h46.2M1141.2 353h47.3M1130.6 392.7h48.8M1151.6 265.7h50.9M1146.7 302.6h45.1M1136.2 378.6h47.4M1174 185.7h48M1136.8 336.9h47.5M1137.6 346.6h46.1M1160.2 213.3h52.2M1154.4 218.4h53.8M1129.1 411.6h50.2M1160.2 226.4h48.9M1195.5 158h52.7M1240.3 118.4h62.8"/>
<path d="M468.2 493.7h50.8M540.2 499.4h40.1M551.8 495.4h57.9M597.4 492.8h32.1M606.5 496.1h48M625.8 489.7h35.1M673.3 491.8h32.5M669.2 497.2h54.4M700.3 494.2h32.7M731.4 486.5h28.2M734 486.6h38.6M760.8 482.2h45M779.8 479.6h44.5M794.9 477.9h56M829.9 482.1h37.8M840.4 473.7h49.2M853.3 483.5h51.9M884.7 488.1h34.1M909.8 480.1h57.1M934 478.6h35.1M950.4 458.4h44.9M976.8 462.2h33.2M1008.8 451h26.5M1018.7 450.9h51.1M1050.3 439.1h39.4M1058.2 438.9h44.6M1095.7 448.5h28M1098.6 435.2h45.2M1129.5 424.8h30.5M1119.2 423.9h58.2M884.2 475.7h41.8M789.1 482.6h37.6M746.2 472.3h51.8M788.2 478h37.1M748.4 487.9h54M864.8 469.5h47.3M815 481.8h69.6M827.7 480.6h66.8M709.8 478.1h41.7M810.7 472.3h69.1M721.3 488.2h41.2M823.1 470.2h50.3M528.3 500.9h36.4M615.4 498.4h46.9M573.8 498h54.2M608.3 494h63.1M693.4 497.9h51.5M611.1 501.5h46M579.6 490.9h42.7M1125.3 438.9h32.4M1113.2 431h16.1M1082 457.8h21.2M1128.6 435.1h30.4M1145.8 429.5h17.1M1129.7 426.5h29.4M1143.6 425.8h17.1M1125.2 419.1h33.9M1141.9 408.8h29.9M1116.6 455.9h29M1150.1 407.1h22M1132.4 426.2h22M1118.9 435.5h26.3M1131.6 425.2h28.1M1128.1 425.5h35.4M1110 437h17.6M1098.9 445.1h16.5M1138.1 418.4h19.5M1103.4 437.3h22M965.1 456h23.9M1062.3 449.1h40.8M1073.9 450.4h40.1M1055.5 452.2h36.1M1075.4 438.3h37.8M1016 449.7h31.7M1076 432.2h31.7M1141.4 340.1h48.9M1179.3 178.8h43.3M1140.6 317.5h51.2M1132.6 412h47.2M1139.7 344.8h51.1M1148.9 282.7h50.1M1176.9 183.6h46.1M1142.2 378.7h45M1155.6 229h52.7M1154.1 232.2h46.1M1153.4 259.4h43.8M1144.1 299.8h46.5M1142.4 325h44M1133.3 398.8h49.2M1141.8 321.5h46.9M1208.2 154.6h54M1263.1 110.2h49.9"/>
<path d="M481.4 494.8h38M538.5 494.7h37.9M553.5 499.5h59.1M598.7 492.4h34.5M609.9 494.1h39.1M625.3 492.5h48.6M653.9 496h55.6M689.3 491.2h27.2M698.5 489.6h43M713.6 485.4h51M754.1 485.3h34.4M751 486h54.9M790.4 483.7h40.1M808.6 480.2h30M809.7 481.7h57.3M843 483h41.8M875.1 481h44.1M889.7 479.7h49.6M914.5 473.4h52.1M949.4 471.2h40.3M950.3 466.5h38.6M968.2 458.6h51.5M994.7 447.9h53.4M1014 448.5h46.4M1052 436h34.7M1075.7 437.1h35M1086.3 436.4h54.2M1089.1 437.9h53.6M1121.9 429h35.8M1118.3 423.4h52.2M765.7 473.2h53.9M896.3 487.5h51.3M716.5 483.9h67.7M758.2 483h65.6M798.1 475.1h46.3M738.1 480.9h48.8M805.4 480.5h47.9M827.1 467.3h41.7M777.6 486.5h49.5M778.4 475.9h38.5M720.7 482.7h64.7M906.6 467.2h43.7M710.8 494.5h40M693.7 484.2h66.1M549.4 503.3h49.3M665.6 491.2h38.4M678.1 488.4h58.5M562.6 496.3h68.8M586.5 494.6h44.2M1138.5 413.2h21.7M1105.4 444.3h28.4M1098.7 433.3h17.4M1107.2 451.6h25.6M1135.4 428.5h20.2M1120.6 437.9h22.9M1075.4 450.3h22.4M1103.8 441.7h30.5M1135 410.7h29.6M1135 426.8h19.6M1136.5 417.4h19.7M1096.4 439.9h18.1M1137.4 422.3h16.8M1102.2 433.8h19.2M1071.2 440h35M1101.2 441.9h29.6M1082.9 445.3h32.1M1142.2 406.7h29.8M1117.8 428.7h16.9M995.6 457.7h30.8M948.2 454.4h34.3M1072.2 431.3h36.7M1038 456.6h35.9M958.7 459.2h44M994.1 464.2h41.3M1058.6 448.4h52.5M1175.4 188.4h46.4M1157.3 241.9h46.6M1156.5 216.9h45.3M1154.5 230.8h50.2M1148.1 290h48.9M1156.6 226.2h48.1M1156.8 234.7h51.1M1150 275.2h49.2M1143.7 299.7h53.4M1134.2 388.2h53.2M1159.1 221.1h44.2M1140.7 325.6h52.8M1137.2 334.1h50.5M1140.6 323.9h44M1159.2 220.6h52M1181.6 172.7h55.9M1258.6 124.3h63"/>
<path d="M509.5 495.3h35.5M543.6 501.8h56.3M568.7 496.4h40.5M586.7 487.9h44.5M601.7 496.4h31.1M619 491.4h41.6M657.7 490.1h56.6M675 493h41.9M685.4 488.9h36.5M718.4 485.3h35.2M729.9 485.2h55.6M769.6 481.9h32.7M775.6 484.6h48.1M819.6 486h38.1M811.4 479.6h56.2M824.9 475h54.7M887.7 476.3h29.2M901 479.7h31.3M915 478.8h58.6M937.3 468.2h50.2M950.3 472.9h28.7M979.6 453.2h27.4M999.7 451.4h50.4M1023.1 454.4h33M1048.9 452.3h58M1083.1 446h35.2M1087.8 433.3h26.7M1100.6 424.9h40.2M1121.7 426.9h44.3M1126.1 409.8h38.8M712 484.7h67.6M838.6 481.7h44.6M829.1 479h48.8M819 478.1h61.2M900.2 477.2h40.7M820.8 480.1h48.8M902.4 478.9h36.7M865.2 482.9h47.8M782.7 479.7h35.9M733 485.1h56.4M788.9 481.7h54.9M755.2 483.8h45M605.8 486.7h40.5M602.4 494.8h56.8M506.9 499.4h42.8M675.1 491.1h39.3M501.6 500.5h66.4M517.5 505.7h53M679.2 490.6h53.6M1092.6 439.9h34.9M1141.9 427.9h16.8M1126.3 434.7h26.6M1107.1 430.1h27.8M1084.9 458.5h27.2M1111.3 438h18.4M1069.1 443.9h32M1086 447.2h35.1M1077.2 457.8h28.8M1111.1 453.8h14.9M1113.7 429.6h25.5M1071.8 453.2h28.2M1152.1 405h17.5M1113.2 439.4h34.8M1098 436h21.4M1145 421.4h31.3M1101.8 438.5h18M1132 442.8h31.7M1149.2 416.7h15M979.9 466.5h39.1M1025 456.6h51.1M967.9 451.6h46M1069.6 444.9h52.2M945.2 462.7h53.1M961.6 462.1h50.1M1140.7 316.8h51.1M1139 336.3h53.6M1129.8 401.7h49.7M1145 305.5h47.1M1142.4 369.1h43M1146 295.4h47.2M1158.7 214.1h49.5M1141.5 319h45.5M1146.3 308.4h48.8M1144 316.2h50.7M1137.2 365.6h48M1146.1 291.7h48.8M1150.1 252.9h44.8M1144.1 254.6h53.9M1154.7 237.9h52.3M1259 138.3h30.3M1193.8 173.1h31.9M1254.6 111.1h47.9"/>
</g>
<path d="M418 483.1C460 482.8 603 482.2 670 481.3C737 480.4 775 479.5 820 478C865 476.5 910 474.5 940 472.5C970 470.5 983.3 468.2 1000 466C1016.7 463.8 1029.2 461.4 1040 459C1050.8 456.6 1056.7 454.6 1065.1 451.5C1073.5 448.4 1083.9 443.4 1090.2 440.3C1096.5 437.2 1098.5 435.9 1102.7 432.8C1106.9 429.7 1111 425.9 1115.2 421.5C1119.4 417.1 1124 411.7 1127.8 406.5C1131.6 401.3 1134.7 396.1 1137.8 390.2C1140.9 384.3 1144.2 377.3 1146.6 371.3C1149 365.3 1150.5 359.2 1152.4 354C1154.3 348.8 1155.6 347.9 1157.9 340C1160.2 332.1 1163.5 317.7 1166.1 306.6C1168.7 295.5 1171.3 283.6 1173.6 273.3C1175.9 263.1 1177.8 256.2 1179.8 245.1C1181.8 234 1183.9 217.5 1185.8 206.7C1187.7 195.8 1189.6 188.6 1191 180C1192.4 171.4 1193.4 161.3 1194.2 155C1195 148.7 1194.9 145.2 1195.6 142C1196.3 138.8 1197.1 137.3 1198.5 136C1199.9 134.7 1200.1 134.4 1204 134.1C1207.9 133.8 1206.7 134 1222 134.2C1237.3 134.3 1250.5 134.4 1296 135C1341.5 135.6 1461.7 137.5 1494.8 138L1494.8 151.3C1461.7 151.7 1341.5 152.9 1296 153.7C1250.5 154.4 1235.7 155.4 1222 155.8C1208.3 156.2 1215.7 155.3 1214 156C1212.3 156.7 1212.3 156.6 1211.6 160C1210.9 163.4 1210.5 168.6 1209.9 176.4C1209.3 184.2 1209 195.2 1208 206.7C1207 218.1 1205.4 234 1203.8 245.1C1202.2 256.2 1200.7 263.1 1198.5 273.3C1196.3 283.6 1193.7 295.5 1190.5 306.6C1187.3 317.7 1182.1 331.1 1179.2 340C1176.3 348.9 1175 354.2 1172.9 360.1C1170.8 366 1168.9 370.1 1166.6 375.1C1164.3 380.1 1161.8 385.2 1159.1 390.2C1156.4 395.2 1153.4 400.2 1150.3 405.2C1147.2 410.2 1144 415.3 1140.3 420.3C1136.5 425.3 1132 430.7 1127.8 435.3C1123.6 439.9 1119.4 444 1115.2 447.8C1111 451.6 1106.9 454.9 1102.7 457.9C1098.5 460.9 1094.4 463.5 1090.2 466C1086 468.5 1081.8 470.9 1077.6 472.9C1073.4 474.9 1069.3 476.4 1065.1 477.8C1060.9 479.2 1056.7 480.5 1052.5 481.6C1048.3 482.7 1045.4 483.5 1040 484.6C1034.6 485.7 1027.3 487.2 1020 488.3C1012.7 489.4 1005 490.5 996 491.3C987 492.1 980.8 492.8 966 493.4C951.2 494 931.7 494.7 907 494.8C882.3 494.9 852.5 494.6 818 494C783.5 493.4 760.5 492 700 491C639.5 490 502 488.5 455 488C408 487.5 424.2 487.9 418 487.9Z" fill="#0b0b0b"/>
<g fill="#D95F02" stroke="#1B9E77" stroke-width="1.4" fill-opacity="0.95">
<circle cx="477.1" cy="504.9" r="6.0"/>
<circle cx="483" cy="502" r="6.0"/>
<circle cx="489" cy="501.3" r="6.0"/>
<circle cx="494.9" cy="499.8" r="6.0"/>
<circle cx="500.9" cy="499" r="6.0"/>
<circle cx="506.8" cy="498" r="6.0"/>
<circle cx="512.7" cy="496.3" r="6.0"/>
<circle cx="518.7" cy="496.9" r="6.0"/>
<circle cx="524.6" cy="498.3" r="6.0"/>
<circle cx="530.6" cy="501.2" r="6.0"/>
<circle cx="536.5" cy="499.8" r="6.0"/>
<circle cx="542.5" cy="498.7" r="6.0"/>
<circle cx="548.4" cy="501.2" r="6.0"/>
<circle cx="554.3" cy="498.8" r="6.0"/>
<circle cx="560.3" cy="499.5" r="6.0"/>
<circle cx="566.2" cy="499.9" r="6.0"/>
<circle cx="572.2" cy="501.3" r="6.0"/>
<circle cx="578.1" cy="500.2" r="6.0"/>
<circle cx="584.1" cy="498.2" r="6.0"/>
<circle cx="590" cy="496.6" r="6.0"/>
<circle cx="596" cy="494.6" r="6.0"/>
<circle cx="601.9" cy="493.9" r="6.0"/>
<circle cx="607.8" cy="493.1" r="6.0"/>
<circle cx="613.8" cy="494.3" r="6.0"/>
<circle cx="619.7" cy="493.2" r="6.0"/>
<circle cx="625.7" cy="493" r="6.0"/>
<circle cx="631.6" cy="494" r="6.0"/>
<circle cx="637.6" cy="491.3" r="6.0"/>
<circle cx="643.5" cy="492.5" r="6.0"/>
<circle cx="649.5" cy="491.6" r="6.0"/>
<circle cx="655.4" cy="493.6" r="6.0"/>
<circle cx="661.3" cy="493.6" r="6.0"/>
<circle cx="667.3" cy="493" r="6.0"/>
<circle cx="673.2" cy="492.5" r="6.0"/>
<circle cx="679.2" cy="491.5" r="6.0"/>
<circle cx="685.1" cy="491.7" r="6.0"/>
<circle cx="691.1" cy="492.3" r="6.0"/>
<circle cx="697" cy="492.6" r="6.0"/>
<circle cx="702.9" cy="491.9" r="6.0"/>
<circle cx="708.9" cy="489.8" r="6.0"/>
<circle cx="714.8" cy="491.9" r="6.0"/>
<circle cx="720.8" cy="490.5" r="6.0"/>
<circle cx="726.7" cy="489.4" r="6.0"/>
<circle cx="732.7" cy="490.8" r="6.0"/>
<circle cx="738.6" cy="488.2" r="6.0"/>
<circle cx="744.6" cy="486" r="6.0"/>
<circle cx="750.5" cy="488.9" r="6.0"/>
<circle cx="756.4" cy="486.7" r="6.0"/>
<circle cx="762.4" cy="486.2" r="6.0"/>
<circle cx="768.3" cy="486.8" r="6.0"/>
<circle cx="774.3" cy="485" r="6.0"/>
<circle cx="780.2" cy="485.4" r="6.0"/>
<circle cx="786.2" cy="486.7" r="6.0"/>
<circle cx="792.1" cy="483.9" r="6.0"/>
<circle cx="798.1" cy="483.8" r="6.0"/>
<circle cx="804" cy="483.2" r="6.0"/>
<circle cx="809.9" cy="482.4" r="6.0"/>
<circle cx="815.9" cy="482.9" r="6.0"/>
<circle cx="821.8" cy="482.5" r="6.0"/>
<circle cx="827.8" cy="483.4" r="6.0"/>
<circle cx="833.7" cy="480.5" r="6.0"/>
<circle cx="839.7" cy="481.2" r="6.0"/>
<circle cx="845.6" cy="480.3" r="6.0"/>
<circle cx="851.5" cy="480.5" r="6.0"/>
<circle cx="857.5" cy="479.5" r="6.0"/>
<circle cx="863.4" cy="480" r="6.0"/>
<circle cx="869.4" cy="479" r="6.0"/>
<circle cx="875.3" cy="483.8" r="6.0"/>
<circle cx="881.3" cy="484.2" r="6.0"/>
<circle cx="887.2" cy="481.2" r="6.0"/>
<circle cx="893.2" cy="478.8" r="6.0"/>
<circle cx="899.1" cy="478.8" r="6.0"/>
<circle cx="905" cy="481.4" r="6.0"/>
<circle cx="911" cy="481.9" r="6.0"/>
<circle cx="916.9" cy="478.4" r="6.0"/>
<circle cx="922.9" cy="479.4" r="6.0"/>
<circle cx="928.8" cy="471.2" r="6.0"/>
<circle cx="934.8" cy="476.6" r="6.0"/>
<circle cx="940.7" cy="475.8" r="6.0"/>
<circle cx="946.7" cy="476.2" r="6.0"/>
<circle cx="952.6" cy="475.4" r="6.0"/>
<circle cx="958.5" cy="468.4" r="6.0"/>
<circle cx="964.5" cy="460" r="6.0"/>
<circle cx="970.4" cy="461.5" r="6.0"/>
<circle cx="976.4" cy="461.5" r="6.0"/>
<circle cx="982.3" cy="461.2" r="6.0"/>
<circle cx="988.3" cy="464.8" r="6.0"/>
<circle cx="994.2" cy="458.8" r="6.0"/>
<circle cx="1000.1" cy="455.8" r="6.0"/>
<circle cx="1006.1" cy="458.5" r="6.0"/>
<circle cx="1012" cy="462.2" r="6.0"/>
<circle cx="1018" cy="459" r="6.0"/>
<circle cx="1023.9" cy="455.3" r="6.0"/>
<circle cx="1029.9" cy="459" r="6.0"/>
<circle cx="1035.8" cy="455.1" r="6.0"/>
<circle cx="1041.8" cy="451.9" r="6.0"/>
<circle cx="1047.7" cy="455.1" r="6.0"/>
<circle cx="1053.6" cy="448.9" r="6.0"/>
<circle cx="1059.6" cy="449.9" r="6.0"/>
<circle cx="1065.5" cy="445.5" r="6.0"/>
<circle cx="1071.5" cy="448.4" r="6.0"/>
<circle cx="1077.4" cy="453.7" r="6.0"/>
<circle cx="1083.4" cy="446.6" r="6.0"/>
<circle cx="1089.3" cy="443.4" r="6.0"/>
<circle cx="1095.3" cy="445.4" r="6.0"/>
<circle cx="1101.2" cy="443.7" r="6.0"/>
<circle cx="1107.1" cy="438.8" r="6.0"/>
<circle cx="1113.1" cy="438.4" r="6.0"/>
<circle cx="1119" cy="437.8" r="6.0"/>
<circle cx="1125" cy="431.5" r="6.0"/>
<circle cx="1130.9" cy="427.4" r="6.0"/>
<circle cx="1136.9" cy="427" r="6.0"/>
<circle cx="1142.8" cy="424.9" r="6.0"/>
<circle cx="1148.7" cy="416.7" r="6.0"/>
<circle cx="1154.7" cy="410.8" r="6.0"/>
<circle cx="1160.6" cy="402.8" r="6.0"/>
<circle cx="1166.6" cy="354" r="6.0"/>
<circle cx="1172.5" cy="306.7" r="6.0"/>
<circle cx="1178.5" cy="273.3" r="6.0"/>
<circle cx="1184.4" cy="245" r="6.0"/>
<circle cx="1190.4" cy="206.5" r="6.0"/>
<circle cx="1196.3" cy="195.7" r="6.0"/>
<circle cx="1202.2" cy="199.3" r="6.0"/>
<circle cx="1208.2" cy="183.4" r="6.0"/>
<circle cx="1214.1" cy="167.9" r="6.0"/>
<circle cx="1220.1" cy="163.3" r="6.0"/>
<circle cx="1226" cy="167.9" r="6.0"/>
<circle cx="1232" cy="162.8" r="6.0"/>
<circle cx="1237.9" cy="157.7" r="6.0"/>
<circle cx="1243.9" cy="157.1" r="6.0"/>
<circle cx="1249.8" cy="151.5" r="6.0"/>
<circle cx="1255.7" cy="150.5" r="6.0"/>
<circle cx="1261.7" cy="150.5" r="6.0"/>
<circle cx="1267.6" cy="145.3" r="6.0"/>
<circle cx="1273.6" cy="147.9" r="6.0"/>
<circle cx="1279.5" cy="147.9" r="6.0"/>
<circle cx="1285.5" cy="143.8" r="6.0"/>
</g>
<path d="M1205.7 75.8V563.4" stroke="#CC79A7" stroke-width="4.4" stroke-dasharray="16.3 7.7" fill="none"/>
<path d="M418.3 67.6V563.4H1493.7" stroke="#000" stroke-width="2.6" fill="none" stroke-linecap="square"/>
<path d="M453.3 563.4v-7.5M601.9 563.4v-7.5M750.5 563.4v-7.5M899.1 563.4v-7.5M1047.7 563.4v-7.5M1196.3 563.4v-7.5M1344.9 563.4v-7.5M1493.5 563.4v-7.5M418.3 548.3h7.5M418.3 445.5h7.5M418.3 342.7h7.5M418.3 239.9h7.5M418.3 137.1h7.5" stroke="#000" stroke-width="2" fill="none"/>
<path d="M527.6 563.4v-4.5M676.2 563.4v-4.5M824.8 563.4v-4.5M973.4 563.4v-4.5M1122 563.4v-4.5M1270.6 563.4v-4.5M1419.2 563.4v-4.5M418.3 496.9h4.5M418.3 394.1h4.5M418.3 291.3h4.5M418.3 188.5h4.5M418.3 85.7h4.5" stroke="#000" stroke-width="1.3" fill="none"/>
<text x="454.5" y="592.8" font-size="30.5" text-anchor="middle" fill="#000" textLength="74.8" lengthAdjust="spacingAndGlyphs">−12.5</text>
<text x="603.1" y="592.8" font-size="30.5" text-anchor="middle" fill="#000" textLength="74.8" lengthAdjust="spacingAndGlyphs">−10.0</text>
<text x="751.7" y="592.8" font-size="30.5" text-anchor="middle" fill="#000" textLength="59.5" lengthAdjust="spacingAndGlyphs">−7.5</text>
<text x="900.3" y="592.8" font-size="30.5" text-anchor="middle" fill="#000" textLength="59.5" lengthAdjust="spacingAndGlyphs">−5.0</text>
<text x="1048.9" y="592.8" font-size="30.5" text-anchor="middle" fill="#000" textLength="59.5" lengthAdjust="spacingAndGlyphs">−2.5</text>
<text x="1196.3" y="592.8" font-size="30.5" text-anchor="middle" fill="#000" textLength="37" lengthAdjust="spacingAndGlyphs">0.0</text>
<text x="1344.9" y="592.8" font-size="30.5" text-anchor="middle" fill="#000" textLength="37" lengthAdjust="spacingAndGlyphs">2.5</text>
<text x="1493.5" y="592.8" font-size="30.5" text-anchor="middle" fill="#000" textLength="37" lengthAdjust="spacingAndGlyphs">5.0</text>
<text x="409.2" y="558.7" font-size="30.5" text-anchor="end" fill="#000" textLength="13" lengthAdjust="spacingAndGlyphs">4</text>
<text x="409.2" y="455.9" font-size="30.5" text-anchor="end" fill="#000" textLength="13" lengthAdjust="spacingAndGlyphs">6</text>
<text x="409.2" y="353.1" font-size="30.5" text-anchor="end" fill="#000" textLength="13" lengthAdjust="spacingAndGlyphs">8</text>
<text x="409.2" y="250.3" font-size="30.5" text-anchor="end" fill="#000" textLength="26.5" lengthAdjust="spacingAndGlyphs">10</text>
<text x="409.2" y="147.5" font-size="30.5" text-anchor="end" fill="#000" textLength="26.5" lengthAdjust="spacingAndGlyphs">12</text>
<text x="955" y="631.2" font-size="33" text-anchor="middle" fill="#000" textLength="287.4" lengthAdjust="spacingAndGlyphs">Soil temperature (°C)</text>
<text transform="translate(363.8 312.2) rotate(-90)" font-size="33" text-anchor="middle" textLength="362" lengthAdjust="spacingAndGlyphs">Effective Permittivity (<tspan font-style="italic">ε</tspan><tspan font-size="23" dy="4.8">eff</tspan><tspan dy="-4.8">)</tspan></text>
<text x="312.6" y="42.8" font-size="29.5" text-anchor="start" fill="#000" textLength="34.8" lengthAdjust="spacingAndGlyphs">(a)</text>
<text x="1192.4" y="68.6" font-size="29" font-style="italic" fill="#CC79A7" textLength="17.8" lengthAdjust="spacingAndGlyphs">T</text><text x="1208.4" y="73.4" font-size="21" font-style="italic" fill="#CC79A7">f</text>
<path d="M437.9 97.7H491.4" stroke="#000" stroke-width="4.7"/>
<circle cx="464.7" cy="131.9" r="8.7" fill="#D95F02" stroke="#1B9E77" stroke-width="2.4"/>
<rect x="454.8" y="156" width="20" height="19.8" fill="#E6AB02" fill-opacity="0.3"/>
<text x="509.6" y="106" font-size="24.5" text-anchor="start" fill="#000" textLength="136" lengthAdjust="spacingAndGlyphs">Fitted SFCC</text>
<text x="509.6" y="140.6" font-size="24.5" text-anchor="start" fill="#000" textLength="211" lengthAdjust="spacingAndGlyphs">Binned Permittivity</text>
<text x="509.6" y="174.8" font-size="24.5" text-anchor="start" fill="#000" textLength="183.8" lengthAdjust="spacingAndGlyphs">Raw Permittivity</text>
</g>
<g id="panelB">
<rect x="454.8" y="693.8" width="18.4" height="453.2" fill="#EDF5FD"/>
<rect x="705.4" y="693.8" width="1009.9" height="453.2" fill="#EDF5FD"/>
<path d="M197.7 672.6V1168.5M447.7 672.6V1168.5M706 672.6V1168.5M956 672.6V1168.5M1214.4 672.6V1168.5M1472.7 672.6V1168.5M1706 672.6V1168.5M122.5 771.3H1790M122.5 904.3H1790M122.5 1037.3H1790" stroke="#dcdfe2" stroke-width="1.1" stroke-dasharray="5.9 3.37" fill="none" opacity="0.85"/>
<path d="M197.7 731.1 198.4 708.5 199.1 724.9 199.8 765.8 200.5 823.1 201.2 850.5 201.9 855.3 202.6 854.3 203.3 863.7 203.9 864.3 204.6 847.8 205.3 802 206 763.8 206.7 738.7 207.4 745.9 208.1 786.1 208.8 828.6 209.5 861.7 210.2 862.1 210.9 868.4 211.6 861.4 212.3 858.3 213 837.7 213.7 801.3 214.4 767.7 215.1 749.3 215.8 762.1 216.4 789 217.1 819.2 217.8 836.7 218.5 839.3 219.2 842.4 219.9 842.5 220.6 837.1 221.3 825.1 222 792.1 222.7 773.7 223.4 761.2 224.1 767.9 224.8 783.2 225.5 809.4 226.2 825 226.9 815.9 227.6 829.2 228.3 817.6 228.9 812 229.6 814.8 230.3 800.7 231 772.9 231.7 764.8 232.4 766.7 233.1 784 233.8 810.5 234.5 811.6 235.2 815.5 235.9 811.6 236.6 807.4 237.3 814.7 238 805.3 238.7 779.3 239.4 759.9 240.1 750.8 240.8 754.1 241.4 770.9 242.1 793.1 242.8 803.8 243.5 803.4 244.2 801.2 244.9 800.8 245.6 805.5 246.3 788.1 247 767.7 247.7 725.5 248.4 703.1 249.1 708.8 249.8 741.3 250.5 784.4 251.2 804.6 251.9 820.2 252.6 819.7 253.3 825.7 253.9 819.6 254.6 809.9 255.3 775.4 256 740.5 256.7 715.5 257.4 730.2 258.1 749.8 258.8 798.2 259.5 820.8 260.2 823.5 260.9 819.3 261.6 818.1 262.3 822.8 263 794.5 263.7 764.6 264.4 733.1 265.1 706.4 265.8 715.8 266.4 744.6 267.1 773.1 267.8 785.2 268.5 791 269.2 789.8 269.9 795.8 270.6 787.7 271.3 773.6 272 743.8 272.7 694.9 273.4 688 274.1 689.7 274.8 720.8 275.5 756.4 276.2 793.5 276.9 792.3 277.6 793.8 278.3 796.8 278.9 791.7 279.6 782.9 280.3 759.8 281 742.4 281.7 738.1 282.4 744.4 283.1 765.9 283.8 780.5 284.5 790.6 285.2 797.5 285.9 795.5 286.6 792.3 287.3 796.7 288 790.5 288.7 768.8 289.4 761.7 290.1 757.9 290.8 758.6 291.4 771.8 292.1 792.9 292.8 803.6 293.5 807.4 294.2 809.2 294.9 813 295.6 814.4 296.3 807.6 297 787.7 297.7 773.3 298.4 765.3 299.1 779.4 299.8 799.3 300.5 826 301.2 837.4 301.9 846.2 302.6 840.6 303.3 841.9 303.9 849.4 304.6 837.7 305.3 832.6 306 810.4 306.7 805.2 307.4 811.2 308.1 835.1 308.8 852.9 309.5 866.3 310.2 871.4 310.9 863.6 311.6 862.6 312.3 857 313 851.5 313.7 831.9 314.4 788.9 315.1 759.8 315.8 769.5 316.4 807.4 317.1 848.5 317.8 868.2 318.5 872.1 319.2 869.5 319.9 872.7 320.6 866.1 321.3 852.2 322 827.3 322.7 782.4 323.4 760 324.1 775.9 324.8 811.1 325.5 852.5 326.2 877.5 326.9 892.6 327.6 894.8 328.3 899.1 328.9 901.3 329.6 893.1 330.3 857.4 331 849.6 331.7 839 332.4 846.9 333.1 869.3 333.8 889.1 334.5 896.1 335.2 892.1 335.9 884.2 336.6 878.1 337.3 877 338 860.6 338.7 841.1 339.4 808.1 340.1 792 340.8 797.2 341.4 829.9 342.1 863 342.8 883.1 343.5 884.8 344.2 880 344.9 881.4 345.6 879.5 346.3 872.9 347 846.6 347.7 808.6 348.4 786.4 349.1 799.3 349.8 829.9 350.5 883.1 351.2 908.1 351.9 921.9 352.6 914 353.3 918 353.9 912 354.6 899.3 355.3 865.5 356 811.3 356.7 786.3 357.4 800.7 358.1 836.1 358.8 882.8 359.5 903.9 360.2 910.7 360.9 908.1 361.6 913.4 362.3 903.5 363 889.5 363.7 843.1 364.4 812.6 365.1 791.1 365.8 802.1 366.4 827.1 367.1 859.8 367.8 886.2 368.5 885.6 369.2 893.1 369.9 893.4 370.6 893.8 371.3 877.2 372 855.1 372.7 820 373.4 798.5 374.1 806.1 374.8 830.8 375.5 868.6 376.2 889 376.9 893.5 377.6 890.7 378.3 882.9 378.9 879.9 379.6 869.5 380.3 841 381 814.7 381.7 787.7 382.4 797 383.1 832.6 383.8 855.2 384.5 869.1 385.2 865.4 385.9 867.7 386.6 864.8 387.3 863.5 388 856 388.7 836 389.4 812.6 390.1 797.8 390.8 804.8 391.4 833.3 392.1 868.3 392.8 878.6 393.5 887.4 394.2 884.4 394.9 878.4 395.6 878.6 396.3 869.2 397 843.9 397.7 800.2 398.4 775.9 399.1 783.8 399.8 814.7 400.5 844.1 401.2 862.9 401.9 877.7 402.6 871.4 403.3 879.4 403.9 881.3 404.6 866.5 405.3 843.3 406 799.1 406.7 770 407.4 780.4 408.1 821.3 408.8 861.1 409.5 875.3 410.2 881.7 410.9 875.3 411.6 878.7 412.3 868.3 413 855.3 413.7 816.3 414.4 791.9 415.1 782.6 415.8 789.3 416.4 816.1 417.1 836.9 417.8 850.2 418.5 840.4 419.2 844.7 419.9 845.4 420.6 840.9 421.3 827.9 422 816.2 422.7 772.1 423.4 756.3 424.1 760.6 424.8 794.4 425.5 830.9 426.2 852.3 426.9 857.8 427.6 856.3 428.3 866.5 428.9 871.4 429.6 856.7 430.3 823.7 431 777.5 431.7 754 432.4 759 433.1 793 433.8 820.9 434.5 848.2 435.2 848.9 435.9 850.9 436.6 844.7 437.3 856.3 438 836.3 438.7 805.4 439.4 787.5 440.1 769.4 440.8 778.5 441.4 796.8 442.1 825.2 442.8 835.1 443.5 849.2 444.2 843.3 444.9 852.3 445.6 854 446.3 841.8 447 825.2 447.7 786.5 448.4 760.5 449.1 775.6 449.8 806.9 450.5 840.2 451.2 867.4 451.9 867.6 452.6 876 453.3 873 453.9 874.7 454.6 869.6 455.3 832.9 456 807.6 456.7 780.9 457.4 788.3 458.1 824.1 458.8 853.8 459.5 873.1 460.2 880 460.9 876 461.6 874.1 462.3 874.8 463 860.1 463.7 842 464.4 829.6 465.1 817.7 465.8 825 466.4 849.8 467.1 867.6 467.8 881.5 468.5 881 469.2 884 469.9 879.6 470.6 867.7 471.3 861.4 472 841.7 472.7 811.9 473.4 792 474.1 797.9 474.8 817.1 475.5 837.4 476.2 843 476.9 845.8 477.6 852.1 478.3 856.5 478.9 856.5 479.6 847.8 480.3 833.8 481 807.5 481.7 796 482.4 808.2 483.1 831.9 483.8 860.2 484.5 886.3 485.2 892.5 485.9 894.3 486.6 908.2 487.3 910.7 488 910.5 488.7 896.3 489.4 873.8 490.1 865.5 490.8 874.8 491.4 895.4 492.1 907.3 492.8 920.3 493.5 922.6 494.2 917 494.9 915 495.6 919.2 496.3 914.2 497 900.4 497.7 890.1 498.4 879 499.1 886.3 499.8 902 500.5 926 501.2 926.7 501.9 934.8 502.6 925.8 503.3 926.5 503.9 926.7 504.6 912.7 505.3 895.4 506 869.7 506.7 858.7 507.4 859.5 508.1 859.5 508.8 877.2 509.5 875.9 510.2 877.5 510.9 873.1 511.6 866.6 512.3 868.4 513 862.5 513.7 844 514.4 810.1 515.1 784.1 515.8 799.1 516.4 826.5 517.1 863.5 517.8 880.5 518.5 892.3 519.2 891.3 519.9 891.1 520.6 896.8 521.3 881.7 522 852.2 522.7 839.7 523.4 827.2 524.1 829 524.8 846.6 525.5 876.3 526.2 887.7 526.9 899.9 527.6 895.4 528.3 898.6 528.9 907.6 529.6 908.3 530.3 894.9 531 892.7 531.7 881.3 532.4 889.5 533.1 912.9 533.8 915.6 534.5 921.2 535.2 920.6 535.9 920.7 536.6 924 537.3 916.7 538 912.2 538.7 891.6 539.4 862.3 540.1 842.3 540.8 852.9 541.4 871.4 542.1 896.8 542.8 913.4 543.5 914 544.2 916.6 544.9 909.4 545.6 911.3 546.3 896.9 547 873 547.7 860.6 548.4 851.7 549.1 849.6 549.8 862.6 550.5 881.9 551.2 885.5 551.9 902.2 552.6 892 553.3 893.5 553.9 896.1 554.6 896.5 555.3 875.9 556 835.4 556.7 817.6 557.4 830.7 558.1 854.9 558.8 880.9 559.5 901.2 560.2 902.7 560.9 903.9 561.6 897.5 562.3 898.2 563 885.8 563.7 862 564.4 851.7 565.1 844.3 565.8 851.3 566.4 869.9 567.1 876 567.8 892.5 568.5 893 569.2 902.1 569.9 899.7 570.6 908.5 571.3 903.2 572 902.4 572.7 862.9 573.4 842.5 574.1 849.3 574.8 864.3 575.5 883.4 576.2 891.3 576.9 890.2 577.6 892.2 578.3 878.5 578.9 877.5 579.6 868.4 580.3 836.6 581 830.3 581.7 824.2 582.4 829.3 583.1 844 583.8 843 584.5 844 585.2 845.1 585.9 842.1 586.6 833.8 587.3 842.6 588 827.6 588.7 809.2 589.4 784.9 590.1 763.5 590.8 775.6 591.4 795.8 592.1 821.8 592.8 826 593.5 828.2 594.2 829.9 594.9 833.5 595.6 833.7 596.3 835.5 597 827.3 597.7 796.4 598.4 784.5 599.1 787.4 599.8 822 600.5 844.7 601.2 865.4 601.9 867 602.6 861.3 603.3 851.4 603.9 854 604.6 842.4 605.3 821.2 606 794.4 606.7 779.3 607.4 788.8 608.1 814.7 608.8 838.4 609.5 850 610.2 848.7 610.9 844.7 611.6 846.6 612.3 849.7 613 837.8 613.7 819.5 614.4 804.9 615.1 798 615.8 808.1 616.4 821.3 617.1 849.9 617.8 861 618.5 865.8 619.2 868.9 619.9 863.5 620.6 871.2 621.3 858.9 622 843.7 622.7 820 623.4 811.9 624.1 810.2 624.8 828.8 625.5 852.7 626.2 867.1 626.9 869.5 627.6 854.5 628.3 865 628.9 858.9 629.6 842.9 630.3 822.7 631 818.9 631.7 807.3 632.4 816.3 633.1 820.3 633.8 834.4 634.5 844.8 635.2 847.8 635.9 853.1 636.6 865 637.3 857.7 638 861.5 638.7 852.7 639.4 837.6 640.1 828.4 640.8 843.6 641.4 863.3 642.1 887.8 642.8 907.9 643.5 914.3 644.2 911.5 644.9 910.8 645.6 911 646.3 903.4 647 882 647.7 876.1 648.4 877.1 649.1 874.9 649.8 889 650.5 904.7 651.2 922.1 651.9 913 652.6 919.3 653.3 914.8 653.9 914.5 654.6 901.8 655.3 891.7 656 882.6 656.7 871 657.4 870.3 658.1 875 658.8 875 659.5 878.6 660.2 882.3 660.9 877.7 661.6 878.8 662.3 886.4 663 880 663.7 870.8 664.4 871.8 665.1 858.1 665.8 859.7 666.4 867.9 667.1 874.6 667.8 878.6 668.5 871.5 669.2 877.1 669.9 872.9 670.6 874.2 671.3 866.9 672 861.3 672.7 845.8 673.4 837.8 674.1 851.9 674.8 871.9 675.5 891.5 676.2 907.7 676.9 918 677.6 924.3 678.3 928.1 678.9 935.5 679.6 920.7 680.3 912.6 681 885.7 681.7 868.2 682.4 866.9 683.1 893.5 683.8 908.9 684.5 916.2 685.2 923.4 685.9 921.5 686.6 925.2 687.3 919.1 688 918.1 688.7 893 689.4 881.2 690.1 872.1 690.8 881.1 691.4 894 692.1 914.3 692.8 917 693.5 914.7 694.2 917.8 694.9 917.5 695.6 918.6 696.3 914.8 697 906.9 697.7 903.8 698.4 899.1 699.1 902.4 699.8 914.8 700.5 927.9 701.2 935.6 701.9 931 702.6 935.9 703.3 935.6 703.9 931.9 704.6 927.6 705.3 923.7 706 899.8 706.7 884.7 707.4 892.9 708.1 904 708.8 926.7 709.5 946.2 710.2 957.1 710.9 955.3 711.6 959.8 712.3 967.1 713 956.6 713.7 939.9 714.4 919.9 715.1 920.4 715.8 919.5 716.4 936.6 717.1 949 717.8 965.2 718.5 966.6 719.2 964.8 719.9 960.9 720.6 955.4 721.3 948.3 722 925.5 722.7 908.4 723.4 907.5 724.1 906.8 724.8 910.9 725.5 932.1 726.2 937.6 726.9 943.4 727.6 941.4 728.3 948.9 728.9 961.9 729.6 969.3 730.3 969.9 731 970.7 731.7 969.6 732.4 976.5 733.1 979.2 733.8 984.9 734.5 998.7 735.2 993.4 735.9 992.5 736.6 999.2 737.3 1009.7 738 1004.8 738.7 997.2 739.4 1004.6 740.1 996.2 740.8 1009.4 741.4 1015.8 742.1 1029.8 742.8 1038.6 743.5 1039.7 744.2 1044.5 744.9 1041.7 745.6 1038.6 746.3 1024.8 747 1018.1 747.7 987 748.4 974.3 749.1 983.1 749.8 991.9 750.5 1000.2 751.2 1006.3 751.9 1009.2 752.6 1012.3 753.3 1018.1 753.9 1026 754.6 1029.1 755.3 1019.9 756 1006.5 756.7 1001.8 757.4 997.2 758.1 1015.6 758.8 1019.4 759.5 1024.8 760.2 1025.6 760.9 1017.9 761.6 1010.2 762.3 1005.6 763 999.4 763.7 981.3 764.4 981.4 765.1 974.7 765.8 970.1 766.4 967.7 767.1 973.5 767.8 968.7 768.5 970.9 769.2 960.4 769.9 959.4 770.6 953 771.3 960.2 772 955.8 772.7 951.9 773.4 953 774.1 956.7 774.8 975.1 775.5 997.7 776.2 1002.1 776.9 1011.3 777.6 1012.2 778.3 1006.8 778.9 1010.2 779.6 1005.3 780.3 992.3 781 979.3 781.7 969 782.4 960.6 783.1 966.5 783.8 983.5 784.5 981.7 785.2 978.8 785.9 974.7 786.6 965.8 787.3 971.1 788 967.3 788.7 953.5 789.4 939.6 790.1 934.5 790.8 936 791.4 951.4 792.1 958.2 792.8 969.4 793.5 969.5 794.2 966.7 794.9 972.8 795.6 977.5 796.3 972.2 797 961.8 797.7 952.7 798.4 952.6 799.1 950.5 799.8 966.5 800.5 982.7 801.2 985.5 801.9 987.8 802.6 985.4 803.3 987.8 803.9 987.9 804.6 977.3 805.3 975.9 806 954.1 806.7 943 807.4 942.6 808.1 949.7 808.8 959.3 809.5 959.4 810.2 956.6 810.9 951.3 811.6 954.8 812.3 962.1 813 952.6 813.7 945.3 814.4 930 815.1 928.8 815.8 938.4 816.4 958.7 817.1 984.7 817.8 995.9 818.5 1004.4 819.2 1018.8 819.9 1023.3 820.6 1028.2 821.3 1023.9 822 1012 822.7 1015.4 823.4 1006.9 824.1 1012.1 824.8 1004.7 825.5 1018.7 826.2 1020.9 826.9 1026.9 827.6 1016.7 828.3 1020.4 828.9 1020.7 829.6 1007.9 830.3 1006.6 831 992.9 831.7 975.4 832.4 979.7 833.1 983 833.8 994.3 834.5 996.2 835.2 984.9 835.9 984 836.6 980.1 837.3 978 838 973.5 838.7 958.2 839.4 946.8 840.1 933.9 840.8 928.7 841.4 943 842.1 945.8 842.8 954.6 843.5 954.9 844.2 963.3 844.9 962.1 845.6 970 846.3 976 847 970.1 847.7 978.1 848.4 979.1 849.1 982.6 849.8 994.2 850.5 1013.5 851.2 1020 851.9 1026.5 852.6 1023.3 853.3 1033.4 853.9 1037 854.6 1029 855.3 1014.8 856 1001 856.7 996.2 857.4 986.6 858.1 999.1 858.8 998.5 859.5 1004.8 860.2 1001.1 860.9 1000 861.6 992.6 862.3 987.1 863 993.4 863.7 976.8 864.4 960.2 865.1 955.8 865.8 955.3 866.4 964.8 867.1 973.7 867.8 985 868.5 981.1 869.2 984.5 869.9 986.4 870.6 987.4 871.3 979.6 872 967 872.7 945.3 873.4 941.5 874.1 945.4 874.8 958.3 875.5 976.3 876.2 982.1 876.9 997.7 877.6 1003.6 878.3 1006.4 878.9 1018.1 879.6 1021.4 880.3 1003.1 881 1016.5 881.7 1012.2 882.4 1014.2 883.1 1005.7 883.8 997.4 884.5 985.1 885.2 980.9 885.9 976.4 886.6 971.7 887.3 964.6 888 964.4 888.7 956.1 889.4 950.3 890.1 938.5 890.8 947.3 891.4 952.1 892.1 967.4 892.8 971.2 893.5 963.5 894.2 967.8 894.9 972.1 895.6 962.4 896.3 970.7 897 956.8 897.7 945.5 898.4 932.3 899.1 933.9 899.8 943.8 900.5 954.5 901.2 962.8 901.9 957.5 902.6 958.6 903.3 951 903.9 949.2 904.6 941 905.3 934 906 920.8 906.7 907.7 907.4 915.6 908.1 922.1 908.8 934.7 909.5 944.9 910.2 943.8 910.9 937.8 911.6 937.6 912.3 933.8 913 930.9 913.7 915.8 914.4 909.4 915.1 890 915.8 897.2 916.4 899.2 917.1 901.5 917.8 904.4 918.5 897.6 919.2 896.3 919.9 888.1 920.6 884.4 921.3 881.7 922 876 922.7 858.7 923.4 853.8 924.1 857.4 924.8 868.6 925.5 876 926.2 879.2 926.9 880.3 927.6 890.5 928.3 892.7 928.9 900.4 929.6 893.1 930.3 883.1 931 886.8 931.7 882.7 932.4 881.9 933.1 901.8 933.8 912.3 934.5 912.5 935.2 909.2 935.9 907.2 936.6 905.1 937.3 898.7 938 900.6 938.7 883.9 939.4 884.1 940.1 873.9 940.8 875.3 941.4 885.3 942.1 894.8 942.8 903.7 943.5 908 944.2 901.9 944.9 912.6 945.6 909.4 946.3 908.6 947 900.7 947.7 905.5 948.4 897.5 949.1 904.1 949.8 902.8 950.5 915.9 951.2 919 951.9 923.3 952.6 916.8 953.3 922.2 953.9 918.9 954.6 921.2 955.3 919.8 956 898.4 956.7 892.9 957.4 899.2 958.1 903.5 958.8 924.2 959.5 925.1 960.2 934.6 960.9 935.3 961.6 939.4 962.3 939.7 963 938.2 963.7 932.6 964.4 922.2 965.1 915.3 965.8 913.3 966.4 924.3 967.1 936.4 967.8 938.9 968.5 939.4 969.2 931.4 969.9 939.9 970.6 935.5 971.3 938.5 972 929.3 972.7 927.7 973.4 926.9 974.1 936 974.8 943.7 975.5 953.3 976.2 960.7 976.9 960.2 977.6 959.2 978.3 969.9 978.9 964.8 979.6 957.7 980.3 950.8 981 952.4 981.7 953.4 982.4 949.4 983.1 946.2 983.8 960.7 984.5 956.9 985.2 966 985.9 965.5 986.6 973.5 987.3 986 988 992.7 988.7 995 989.4 984.9 990.1 989.8 990.8 991.9 991.4 1005.6 992.1 1009.1 992.8 1022.8 993.5 1016.6 994.2 1012.6 994.9 1005 995.6 1004.6 996.3 1010 997 991 997.7 997.1 998.4 998.2 999.1 1017.4 999.8 1016.6 1000.5 1035.4 1001.2 1041.8 1001.9 1042.4 1002.6 1031.2 1003.3 1039.2 1003.9 1020.9 1004.6 1010.8 1005.3 990.8 1006 963.5 1006.7 955.9 1007.4 947.3 1008.1 953.3 1008.8 953.8 1009.5 961.9 1010.2 958.3 1010.9 953.9 1011.6 968.9 1012.3 967.4 1013 957.8 1013.7 944.4 1014.4 937 1015.1 923.8 1015.8 925.9 1016.4 939.1 1017.1 943 1017.8 950.5 1018.5 952.8 1019.2 950.9 1019.9 952.9 1020.6 956.2 1021.3 967.4 1022 966.3 1022.7 954.2 1023.4 955.8 1024.1 959.4 1024.8 968.8 1025.5 982.4 1026.2 984.6 1026.9 978.7 1027.6 974 1028.3 968.9 1028.9 958.5 1029.6 948.6 1030.3 944.3 1031 934.1 1031.7 928.6 1032.4 933.6 1033.1 940.5 1033.8 948.2 1034.5 941.8 1035.2 942.5 1035.9 941.6 1036.6 942.5 1037.3 932.8 1038 939 1038.7 926 1039.4 910.3 1040.1 906.2 1040.8 911.5 1041.4 919.1 1042.1 919.4 1042.8 925.2 1043.5 919.8 1044.2 921.3 1044.9 923 1045.6 909.2 1046.3 917.7 1047 900.6 1047.7 888.9 1048.4 882.3 1049.1 880.2 1049.8 884.5 1050.5 889.4 1051.2 902.5 1051.9 905 1052.6 902.3 1053.3 912.6 1053.9 911.1 1054.6 902.4 1055.3 894.1 1056 887.1 1056.7 885.4 1057.4 893.1 1058.1 898.9 1058.8 911 1059.5 906.5 1060.2 912.9 1060.9 917.3 1061.6 906.2 1062.3 911.2 1063 904.6 1063.7 905.1 1064.4 898.5 1065.1 888.7 1065.8 903.4 1066.4 918.9 1067.1 932.9 1067.8 935.7 1068.5 944.8 1069.2 948.1 1069.9 956.9 1070.6 950.3 1071.3 941 1072 931.2 1072.7 921 1073.4 902.5 1074.1 904.1 1074.8 910.8 1075.5 910.5 1076.2 916.2 1076.9 907.8 1077.6 899.2 1078.3 898 1078.9 889.1 1079.6 888.2 1080.3 883.8 1081 874.3 1081.7 873.7 1082.4 876.1 1083.1 890.4 1083.8 906 1084.5 913 1085.2 915.5 1085.9 917.9 1086.6 929 1087.3 933.7 1088 936.8 1088.7 941.9 1089.4 932.9 1090.1 936.3 1090.8 945.8 1091.4 953.9 1092.1 955.2 1092.8 965.6 1093.5 967.4 1094.2 959.4 1094.9 957.1 1095.6 966.5 1096.3 958 1097 947.4 1097.7 942.4 1098.4 942.3 1099.1 942 1099.8 951 1100.5 949.9 1101.2 957.6 1101.9 958.9 1102.6 956.8 1103.3 961.3 1103.9 957.9 1104.6 947.2 1105.3 945.9 1106 950.7 1106.7 946.7 1107.4 950 1108.1 949.4 1108.8 959.5 1109.5 956.7 1110.2 956.3 1110.9 956.3 1111.6 959.9 1112.3 963.3 1113 968.2 1113.7 972.8 1114.4 959.3 1115.1 960.9 1115.8 972.8 1116.4 991 1117.1 1003.2 1117.8 1011.6 1118.5 1017.3 1119.2 1019.9 1119.9 1015.9 1120.6 1014.8 1121.3 1003.6 1122 988.4 1122.7 980.7 1123.4 977.4 1124.1 981.8 1124.8 990.6 1125.5 997.7 1126.2 1006.9 1126.9 997.6 1127.6 996 1128.3 981.4 1128.9 981.4 1129.6 968.6 1130.3 967.4 1131 951.5 1131.7 952.6 1132.4 958.2 1133.1 966.1 1133.8 974.2 1134.5 979.1 1135.2 976.3 1135.9 979.3 1136.6 981.2 1137.3 988.2 1138 987.9 1138.7 989.1 1139.4 980.2 1140.1 971.3 1140.8 979.5 1141.4 990.4 1142.1 1003.2 1142.8 1007.8 1143.5 1006.3 1144.2 1011 1144.9 1006.8 1145.6 1009.3 1146.3 1013.7 1147 1009.8 1147.7 1017 1148.4 1007.7 1149.1 1015.5 1149.8 1028.7 1150.5 1042.7 1151.2 1046.9 1151.9 1044.4 1152.6 1047.8 1153.3 1043.8 1153.9 1040.6 1154.6 1043.8 1155.3 1032.3 1156 1024.2 1156.7 1018.2 1157.4 1020.9 1158.1 1025.6 1158.8 1038.9 1159.5 1037.3 1160.2 1043.8 1160.9 1044.3 1161.6 1041.1 1162.3 1052.1 1163 1058.3 1163.7 1047.7 1164.4 1042.2 1165.1 1038.5 1165.8 1041.8 1166.4 1054.5 1167.1 1058.1 1167.8 1077 1168.5 1087 1169.2 1081.1 1169.9 1086.3 1170.6 1090.9 1171.3 1085.4 1172 1085.8 1172.7 1086.6 1173.4 1083.2 1174.1 1089 1174.8 1091.9 1175.5 1102.1 1176.2 1104.7 1176.9 1108 1177.6 1101.6 1178.3 1094.5 1178.9 1095.7 1179.6 1099.9 1180.3 1097.1 1181 1090.3 1181.7 1091.6 1182.4 1100.6 1183.1 1114.8 1183.8 1115.3 1184.5 1127.6 1185.2 1131.4 1185.9 1134.4 1186.6 1138.4 1187.3 1131.3 1188 1133.5 1188.7 1122.3 1189.4 1110.5 1190.1 1104.2 1190.8 1099.8 1191.4 1109.1 1192.1 1114.6 1192.8 1119 1193.5 1118.5 1194.2 1131.2 1194.9 1125.9 1195.6 1129.9 1196.3 1138.4 1197 1128.3 1197.7 1115.3 1198.4 1113.4 1199.1 1099.8 1199.8 1107.1 1200.5 1101.1 1201.2 1100.6 1201.9 1096.4 1202.6 1085.8 1203.3 1074.9 1203.9 1066 1204.6 1056.3 1205.3 1047.4 1206 1037.1 1206.7 1035.7 1207.4 1038.5 1208.1 1045.2 1208.8 1053.1 1209.5 1055.2 1210.2 1063 1210.9 1066.1 1211.6 1069.4 1212.3 1071.1 1213 1066.8 1213.7 1058.1 1214.4 1052.9 1215.1 1040 1215.8 1048 1216.4 1050.4 1217.1 1061 1217.8 1065 1218.5 1068.7 1219.2 1070.8 1219.9 1082.6 1220.6 1076.4 1221.3 1079.9 1222 1066.9 1222.7 1058.9 1223.4 1045.8 1224.1 1043.7 1224.8 1046.3 1225.5 1057.3 1226.2 1057.3 1226.9 1056.7 1227.6 1051.4 1228.3 1052.4 1228.9 1053 1229.6 1047.9 1230.3 1037.4 1231 1029.7 1231.7 1023.4 1232.4 1027.4 1233.1 1032 1233.8 1036.9 1234.5 1038.9 1235.2 1038.9 1235.9 1024.9 1236.6 1030.7 1237.3 1022.6 1238 1014.9 1238.7 1010 1239.4 997.2 1240.1 993.7 1240.8 992.6 1241.4 986.4 1242.1 987.5 1242.8 980.1 1243.5 981.3 1244.2 986.3 1244.9 978.8 1245.6 987.4 1246.3 981.5 1247 980.9 1247.7 961.6 1248.4 954.4 1249.1 941.7 1249.8 942 1250.5 945.4 1251.2 940.4 1251.9 937.9 1252.6 941.1 1253.3 936.4 1253.9 930.3 1254.6 931.3 1255.3 921 1256 902 1256.7 896 1257.4 897.4 1258.1 893 1258.8 906.4 1259.5 908.4 1260.2 913.8 1260.9 914.6 1261.6 916.6 1262.3 919.4 1263 910.2 1263.7 905.9 1264.4 899.8 1265.1 904.8 1265.8 908.5 1266.4 912.8 1267.1 921.9 1267.8 919.4 1268.5 913.1 1269.2 909.2 1269.9 904.4 1270.6 900.2 1271.3 899.8 1272 894.1 1272.7 904.1 1273.4 912.2 1274.1 919.8 1274.8 936.6 1275.5 954.5 1276.2 958.4 1276.9 974.8 1277.6 969.6 1278.3 975.4 1278.9 972.3 1279.6 971.1 1280.3 966.4 1281 956.7 1281.7 957.7 1282.4 963.4 1283.1 973.4 1283.8 992.5 1284.5 1003.9 1285.2 1010.7 1285.9 1011.3 1286.6 1017.1 1287.3 1008.3 1288 1001.4 1288.7 998.4 1289.4 999.5 1290.1 990.8 1290.8 1002.9 1291.4 1003.2 1292.1 1014.5 1292.8 1019 1293.5 1030.9 1294.2 1032.5 1294.9 1031.5 1295.6 1039.1 1296.3 1037.5 1297 1046.6 1297.7 1044.5 1298.4 1041.3 1299.1 1054.2 1299.8 1058.9 1300.5 1064.3 1301.2 1064.7 1301.9 1051 1302.6 1045.5 1303.3 1046 1303.9 1041.7 1304.6 1035.9 1305.3 1031.6 1306 1034.3 1306.7 1037.8 1307.4 1051 1308.1 1053.2 1308.8 1073.2 1309.5 1079.5 1310.2 1086.9 1310.9 1085.6 1311.6 1091.5 1312.3 1090.6 1313 1092.2 1313.7 1089 1314.4 1081.5 1315.1 1078.8 1315.8 1081 1316.4 1090 1317.1 1098.8 1317.8 1113.8 1318.5 1109 1319.2 1106.5 1319.9 1100.8 1320.6 1102.4 1321.3 1098.7 1322 1088.6 1322.7 1073 1323.4 1067.4 1324.1 1062.2 1324.8 1064 1325.5 1074.7 1326.2 1072.8 1326.9 1068.1 1327.6 1064.9 1328.3 1054.2 1328.9 1059.6 1329.6 1050.7 1330.3 1046.4 1331 1043.4 1331.7 1040.5 1332.4 1050.3 1333.1 1065 1333.8 1077.7 1334.5 1085 1335.2 1092.2 1335.9 1098.4 1336.6 1082.2 1337.3 1073.4 1338 1060.4 1338.7 1033.8 1339.4 1031 1340.1 1009 1340.8 998.3 1341.4 1005.5 1342.1 996.9 1342.8 997.1 1343.5 995.1 1344.2 982.2 1344.9 980.9 1345.6 983.2 1346.3 976.5 1347 971.1 1347.7 944 1348.4 947.6 1349.1 941.1 1349.8 945.3 1350.5 944.6 1351.2 948.5 1351.9 942.8 1352.6 933.4 1353.3 929.5 1353.9 921.7 1354.6 912.9 1355.3 905.2 1356 917.8 1356.7 913.9 1357.4 918.5 1358.1 931.8 1358.8 935.8 1359.5 942.6 1360.2 933.3 1360.9 931.6 1361.6 922 1362.3 916.3 1363 900.9 1363.7 895.2 1364.4 889.6 1365.1 895.7 1365.8 902.8 1366.4 916.5 1367.1 918.4 1367.8 927.1 1368.5 929.4 1369.2 922.9 1369.9 931.3 1370.6 924.8 1371.3 921 1372 914.2 1372.7 900.7 1373.4 891.9 1374.1 899.8 1374.8 902.6 1375.5 912.8 1376.2 916.9 1376.9 923.6 1377.6 914.5 1378.3 913.6 1378.9 905.8 1379.6 908.4 1380.3 895.5 1381 880.2 1381.7 874 1382.4 883.3 1383.1 890.2 1383.8 897.7 1384.5 901 1385.2 902.4 1385.9 903.9 1386.6 900.6 1387.3 908.1 1388 913.1 1388.7 914.1 1389.4 912.9 1390.1 916.7 1390.8 913.3 1391.4 927.3 1392.1 924.5 1392.8 923.6 1393.5 915 1394.2 909.5 1394.9 906.1 1395.6 897.7 1396.3 885.1 1397 885.6 1397.7 880.1 1398.4 881.3 1399.1 885 1399.8 892.2 1400.5 897 1401.2 894 1401.9 898.3 1402.6 899.7 1403.3 902.6 1403.9 901.5 1404.6 899 1405.3 897.8 1406 895.6 1406.7 893.2 1407.4 893.2 1408.1 900.3 1408.8 911.3 1409.5 920.8 1410.2 929.5 1410.9 929 1411.6 930.9 1412.3 935.7 1413 944.5 1413.7 951.3 1414.4 952.1 1415.1 961.6 1415.8 971.7 1416.4 982.7 1417.1 984.6 1417.8 996.1 1418.5 997.6 1419.2 1003.7 1419.9 1007.2 1420.6 1012.2 1421.3 1011.6 1422 1016.7 1422.7 1003.1 1423.4 1005.1 1424.1 1007.5 1424.8 1014.1 1425.5 1022.4 1426.2 1025.7 1426.9 1027.3 1427.6 1015.6 1428.3 1024.9 1428.9 1017.6 1429.6 1016 1430.3 1011.6 1431 1001.5 1431.7 992.7 1432.4 997.6 1433.1 993.2 1433.8 1004.7 1434.5 1000 1435.2 1002.6 1435.9 1001 1436.6 998.8 1437.3 999.9 1438 998.4 1438.7 995.1 1439.4 991.1 1440.1 984.6 1440.8 995.4 1441.4 1005.6 1442.1 1006.7 1442.8 1010.1 1443.5 1017.7 1444.2 1014.6 1444.9 1016.5 1445.6 1026.1 1446.3 1034.4 1447 1029.7 1447.7 1033.8 1448.4 1018.7 1449.1 1028.5 1449.8 1044.5 1450.5 1048.5 1451.2 1054.6 1451.9 1053.4 1452.6 1053.2 1453.3 1053.2 1453.9 1044.2 1454.6 1023.1 1455.3 1013 1456 994.6 1456.7 976.2 1457.4 970.6 1458.1 963.6 1458.8 960.5 1459.5 963.7 1460.2 954.9 1460.9 967.3 1461.6 971.5 1462.3 987.7 1463 990.4 1463.7 995.7 1464.4 1004.9 1465.1 1001.4 1465.8 1001 1466.4 1015.1 1467.1 1019.2 1467.8 1035.5 1468.5 1033.9 1469.2 1040.7 1469.9 1041.2 1470.6 1042.3 1471.3 1053.4 1472 1043.3 1472.7 1030.4 1473.4 1028.5 1474.1 1038.3 1474.8 1047.1 1475.5 1059.2 1476.2 1068.3 1476.9 1066.6 1477.6 1063.1 1478.3 1068 1478.9 1077.5 1479.6 1073 1480.3 1060 1481 1049.8 1481.7 1049.4 1482.4 1048.2 1483.1 1062.1 1483.8 1056.5 1484.5 1064.1 1485.2 1065.5 1485.9 1062 1486.6 1064.4 1487.3 1063.6 1488 1067.9 1488.7 1052.9 1489.4 1050.9 1490.1 1043.5 1490.8 1048.5 1491.4 1060.3 1492.1 1069.6 1492.8 1073.7 1493.5 1083.4 1494.2 1082.9 1494.9 1093.2 1495.6 1088.3 1496.3 1095.5 1497 1085.2 1497.7 1077.7 1498.4 1068.5 1499.1 1075.9 1499.8 1086.2 1500.5 1093.4 1501.2 1095.9 1501.9 1097.4 1502.6 1100.9 1503.3 1098.5 1503.9 1099.5 1504.6 1099.2 1505.3 1086.5 1506 1079.2 1506.7 1082.5 1507.4 1081.9 1508.1 1085.6 1508.8 1096 1509.5 1097.6 1510.2 1100.7 1510.9 1105.6 1511.6 1098.9 1512.3 1101.7 1513 1097.1 1513.7 1085.7 1514.4 1087.2 1515.1 1085.4 1515.8 1078.6 1516.4 1092.1 1517.1 1099.7 1517.8 1098.7 1518.5 1106.6 1519.2 1115.2 1519.9 1104.4 1520.6 1108.5 1521.3 1104.1 1522 1086.3 1522.7 1074.6 1523.4 1064.5 1524.1 1050.4 1524.8 1054.2 1525.5 1047.3 1526.2 1045.8 1526.9 1038 1527.6 1034.4 1528.3 1037.2 1528.9 1034.9 1529.6 1026.9 1530.3 1027 1531 1024.5 1531.7 1021.9 1532.4 1027 1533.1 1041.5 1533.8 1049.1 1534.5 1058.9 1535.2 1065.2 1535.9 1080.1 1536.6 1074.9 1537.3 1087.3 1538 1085 1538.7 1096.9 1539.4 1081.2 1540.1 1083.1 1540.8 1083.7 1541.4 1104.6 1542.1 1110.2 1542.8 1116.4 1543.5 1121.4 1544.2 1115.7 1544.9 1109.9 1545.6 1101.8 1546.3 1091.6 1547 1082.8 1547.7 1071.9 1548.4 1065.3 1549.1 1064.6 1549.8 1075.2 1550.5 1079.9 1551.2 1080.1 1551.9 1073.4 1552.6 1072.5 1553.3 1062.7 1553.9 1058.3 1554.6 1054.8 1555.3 1045.3 1556 1035.8 1556.7 1033.6 1557.4 1030.1 1558.1 1031.1 1558.8 1038.4 1559.5 1037.8 1560.2 1034.3 1560.9 1030.7 1561.6 1025.6 1562.3 1026.6 1563 1036.3 1563.7 1031.2 1564.4 1033.2 1565.1 1037.7 1565.8 1047.8 1566.4 1066.6 1567.1 1079.6 1567.8 1087.4 1568.5 1075.4 1569.2 1070.5 1569.9 1064.1 1570.6 1059 1571.3 1045.2 1572 1034.4 1572.7 1020.3 1573.4 1010.3 1574.1 1015 1574.8 1020.5 1575.5 1034.2 1576.2 1024.9 1576.9 1013.9 1577.6 1017.7 1578.3 999.5 1578.9 990.4 1579.6 975.8 1580.3 949.5 1581 938 1581.7 919.4 1582.4 915.3 1583.1 915.9 1583.8 929.1 1584.5 934.1 1585.2 942.4 1585.9 955.9 1586.6 974.5 1587.3 975.1 1588 986.1 1588.7 991.3 1589.4 989.4 1590.1 1000.8 1590.7 1011.4 1591.4 1034.8 1592.1 1054.5 1592.8 1063.5 1593.5 1059.5 1594.2 1050 1594.9 1051.4 1595.6 1048.8 1596.3 1022 1597 1005.1 1597.7 982.8 1598.4 971.1 1599.1 966.3 1599.8 975.9 1600.5 990.5 1601.2 995.8 1601.9 999.8 1602.6 998.6 1603.2 998.4 1603.9 995.5 1604.6 1000.7 1605.3 982.2 1606 980.5 1606.7 972.1 1607.4 969.9 1608.1 990.6 1608.8 999.7 1609.5 1014.7 1610.2 1024 1610.9 1020.3 1611.6 1031.7 1612.3 1028 1613 1031 1613.7 1023.6 1614.4 1018.8 1615.1 1019.6 1615.7 1028 1616.4 1034.2 1617.1 1052.6 1617.8 1052.8 1618.5 1053 1619.2 1058.2 1619.9 1058.6 1620.6 1059.1 1621.3 1052.3 1622 1050.6 1622.7 1047.6 1623.4 1050.6 1624.1 1062.2 1624.8 1082.6 1625.5 1086.5 1626.2 1093.5 1626.9 1089.7 1627.6 1084.9 1628.2 1070.5 1628.9 1057 1629.6 1049.4 1630.3 1033.5 1631 1030.5 1631.7 1018.2 1632.4 1012.9 1633.1 1020.2 1633.8 1029.4 1634.5 1037.2 1635.2 1043.5 1635.9 1051.4 1636.6 1053.1 1637.3 1052.9 1638 1052.8 1638.7 1045.2 1639.4 1039.7 1640.1 1028.8 1640.7 1040.2 1641.4 1050.1 1642.1 1069.1 1642.8 1080.2 1643.5 1091.8 1644.2 1094.2 1644.9 1091.1 1645.6 1088.2 1646.3 1068.5 1647 1055.7 1647.7 1041.7 1648.4 1025.8 1649.1 1023.5 1649.8 1027.5 1650.5 1025.8 1651.2 1028.6 1651.9 1034 1652.6 1026.9 1653.2 1030.9 1653.9 1022.9 1654.6 1020.3 1655.3 1018.2 1656 1010.4 1656.7 1003.2 1657.4 1013.8 1658.1 1018.4 1658.8 1013.6 1659.5 1020.6 1660.2 1012.3 1660.9 1006.8 1661.6 1010.4 1662.3 1003.4 1663 1007.5 1663.7 995.4 1664.4 987.9 1665.1 987.5 1665.7 976.4 1666.4 989.5 1667.1 991.5 1667.8 982.8 1668.5 981.5 1669.2 965.3 1669.9 956.8 1670.6 947.5 1671.3 941.6 1672 934.7 1672.7 930.7 1673.4 932.5 1674.1 946.2 1674.8 954.5 1675.5 968.2 1676.2 970.8 1676.9 976 1677.6 977.8 1678.2 966.1 1678.9 977.2 1679.6 967.6 1680.3 964.7 1681 958.2 1681.7 953.8 1682.4 956.5 1683.1 961.1 1683.8 978.2 1684.5 978.6 1685.2 981.7 1685.9 981.4 1686.6 980.1 1687.3 979.5 1688 963.3 1688.7 947.7 1689.4 936.5 1690.1 933.4 1690.7 929.7 1691.4 934 1692.1 935.6 1692.8 945.2 1693.5 946.2 1694.2 943.6 1694.9 946.7 1695.6 949.5 1696.3 945.9 1697 946.6 1697.7 931.2 1698.4 934 1699.1 941 1699.8 946.1 1700.5 965.6 1701.2 968.2 1701.9 973.2 1702.6 961.3 1703.2 959.2 1703.9 950.1 1704.6 946.6 1705.3 939.7 1706 927.6 1706.7 933.1 1707.4 952.6 1708.1 969.4 1708.8 991.6 1709.5 1013.8 1710.2 1023.6 1710.9 1035.8 1711.6 1038.7 1712.3 1043.4 1713 1037.8 1713.7 1028.5 1714.4 1010.5 1715.1 997" stroke="#1B9E77" stroke-opacity="0.3" stroke-width="1.3" fill="none" stroke-linejoin="round"/>
<path d="M122.1 903.7H1790" stroke="#CC79A7" stroke-width="2.8" stroke-dasharray="11.35 6.32" fill="none"/>
<path d="M195.2 791.4 197.2 792.6 199.2 794.5 201.2 795.7 203.2 797.2 205.2 798.1 207.2 799.1 209.2 800.2 211.2 801.8 213.2 802.1 215.2 802.6 217.2 802.6 219.2 802.8 221.2 801 223.2 799.7 225.2 798 227.2 797.7 229.2 796.5 231.2 795.8 233.2 795.4 235.2 794.7 237.2 793.6 239.2 791.9 241.2 790.6 243.2 789.7 245.2 789.3 247.2 788.3 249.2 787.7 251.2 786.8 253.2 786.4 255.2 785.8 257.2 784.8 259.2 783.8 261.2 782.2 263.2 781.4 265.2 779.6 267.2 778.6 269.2 777.4 271.2 777.4 273.2 778.2 275.2 780.1 277.2 782.4 279.2 784.7 281.2 786.3 283.2 788.3 285.2 791.2 287.2 794 289.2 796.4 291.2 798.6 293.2 801.5 295.2 805.9 297.2 809.6 299.2 814.1 301.2 817.4 303.2 821 305.2 823.5 307.2 826.6 309.2 829.2 311.2 831.5 313.2 833.8 315.2 836.3 317.2 839.1 319.2 839.9 321.2 838.8 323.2 839.1 325.2 839.9 327.2 843.8 329.2 846.1 331.2 848.1 333.2 847.7 335.2 846.2 337.2 845.7 339.2 845.4 341.2 845.6 343.2 845.4 345.2 846.8 347.2 848.1 349.2 849.7 351.2 850.2 353.2 851.2 355.2 852 357.2 851.8 359.2 851.4 361.2 850.6 363.2 850.7 365.2 851.5 367.2 852.1 369.2 852.9 371.2 852.7 373.2 853.3 375.2 854.2 377.2 854.9 379.2 855.5 381.2 855.9 383.2 856 385.2 855.4 387.2 853.7 389.2 851.8 391.2 851 393.2 850.3 395.2 850 397.2 847.8 399.2 846.6 401.2 844 403.2 843 405.2 840.2 407.2 838.2 409.2 835.5 411.2 832.7 413.2 829.3 415.2 825.9 417.2 823.6 419.2 823.2 421.2 821.8 423.2 821.3 425.2 820.9 427.2 821.3 429.2 820.4 431.2 819.1 433.2 818.4 435.2 818.9 437.2 820.1 439.2 820.9 441.2 821.8 443.2 823.7 445.2 826.7 447.2 829.9 449.2 832.3 451.2 834.4 453.2 836.7 455.2 839.1 457.2 841.8 459.2 843.7 461.2 845.4 463.2 847.3 465.2 849.9 467.2 851.7 469.2 852.2 471.2 851.4 473.2 850.9 475.2 852.2 477.2 854 479.2 855.9 481.2 856.6 483.2 857.9 485.2 860.8 487.2 864.2 489.2 867.1 491.2 868.4 493.2 868.9 495.2 869 497.2 869.2 499.2 868.6 501.2 867.2 503.2 865.2 505.2 863.6 507.2 863.1 509.2 862.1 511.2 861.3 513.2 860.2 515.2 860.6 517.2 861.6 519.2 863.7 521.2 864.8 523.2 866.1 525.2 868.7 527.2 872.1 529.2 877.2 531.2 881 533.2 884.1 535.2 885.1 537.2 885.2 539.2 884.1 541.2 884 543.2 883.1 545.2 883.4 547.2 881.4 549.2 880.2 551.2 878.2 553.2 876.6 555.2 875.3 557.2 874.6 559.2 873.8 561.2 872.1 563.2 870.4 565.2 870.2 567.2 871.5 569.2 872.8 571.2 873.4 573.2 872 575.2 870.2 577.2 867.1 579.2 864.4 581.2 861.8 583.2 859.4 585.2 856.7 587.2 852.9 589.2 850.1 591.2 847.9 593.2 847.6 595.2 847.9 597.2 849.3 599.2 850.1 601.2 850.6 603.2 851.5 605.2 851.6 607.2 852 609.2 851.9 611.2 853.8 613.2 855.9 615.2 858.1 617.2 859.5 619.2 862 621.2 863.1 623.2 863.7 625.2 863.2 627.2 863.5 629.2 864.8 631.2 867.1 633.2 869.9 635.2 873.2 637.2 875.7 639.2 878.3 641.2 880.6 643.2 882.7 645.2 884.3 647.2 885.2 649.2 886.2 651.2 886.8 653.2 886 655.2 884.1 657.2 881.8 659.2 881.8 661.2 881.9 663.2 883.1 665.2 884.1 667.2 886.2 669.2 888.1 671.2 889.5 673.2 891.3 675.2 893.4 677.2 895.9 679.2 898.7 681.2 901.2 683.2 904.1 685.2 906 687.2 908.2 689.2 909.7 691.2 911.2 693.2 912.5 695.2 913.8 697.2 914.9 699.2 916.7 701.2 918 703.2 919.9 705.2 922.2 707.2 925.6 709.2 929.8 711.2 932.8 713.2 935.7 715.2 938.1 717.2 941 719.2 943.9 721.2 946 723.2 948.2 725.2 950.3 727.2 953 729.2 955.1 731.2 957.7 733.2 961 735.2 964 737.2 967.4 739.2 969.4 741.2 972.7 743.2 974.7 745.2 977.4 747.2 978.7 749.2 981.4 751.2 984.1 753.2 986.6 755.2 988.7 757.2 988.7 759.2 989.2 761.2 987.6 763.2 988.1 765.2 987.4 767.2 987.7 769.2 986 771.2 985.1 773.2 984.8 775.2 984.2 777.2 984 779.2 982.5 781.2 981.8 783.2 979.9 785.2 978.3 787.2 976.9 789.2 975.1 791.2 972.8 793.2 970 795.2 969.1 797.2 969.1 799.2 968.2 801.2 966.7 803.2 966 805.2 965.5 807.2 964.8 809.2 963.1 811.2 963.2 813.2 964.4 815.2 966.1 817.2 968.4 819.2 969.8 821.2 971 823.2 971.3 825.2 972.5 827.2 973.8 829.2 974.4 831.2 974.5 833.2 972.8 835.2 971.9 837.2 971.4 839.2 972.7 841.2 973.7 843.2 975.3 845.2 978.3 847.2 981.1 849.2 983.8 851.2 986.6 853.2 988.5 855.2 989.8 857.2 988.8 859.2 988 861.2 986.5 863.2 985.3 865.2 984.8 867.2 983 869.2 981 871.2 977.1 873.2 974.4 875.2 971.3 877.2 968.4 879.2 966.3 881.2 963.8 883.2 962.5 885.2 959.3 887.2 957.3 889.2 955.8 891.2 954.8 893.2 953.5 895.2 952.3 897.2 951.4 899.2 949.6 901.2 946.4 903.2 942.4 905.2 938.8 907.2 934.9 909.2 931.1 911.2 927.6 913.2 924.2 915.2 921.9 917.2 918 919.2 914.9 921.2 911.8 923.2 911.3 925.2 911.6 927.2 912.3 929.2 914.2 931.2 915.3 933.2 917 935.2 916.4 937.2 916 939.2 916 941.2 916.3 943.2 917 945.2 917 947.2 918.4 949.2 920.3 951.2 922.4 953.2 924.5 955.2 926.5 957.2 928.8 959.2 930.8 961.2 932.9 963.2 935.5 965.2 938.7 967.2 941 969.2 943.6 971.2 945.1 973.2 947.4 975.2 948.9 977.2 951.3 979.2 952.7 981.2 953.8 983.2 953.9 985.2 954.2 987.2 954.6 989.2 954.7 991.2 955.2 993.2 955.6 995.2 955.6 997.2 955.8 999.2 954.7 1001.2 953.8 1003.2 952.1 1005.2 950.6 1007.2 948.2 1009.2 945.9 1011.2 943.5 1013.2 941.7 1015.2 939.4 1017.2 937.7 1019.2 935.1 1021.2 933 1023.2 929.5 1025.2 927.6 1027.2 924.5 1029.2 922.8 1031.2 920.7 1033.2 919.3 1035.2 917 1037.2 914.5 1039.2 913.1 1041.2 912.1 1043.2 910.7 1045.2 908.8 1047.2 907 1049.2 906 1051.2 905.4 1053.2 905.4 1055.2 906.4 1057.2 906.7 1059.2 907.4 1061.2 906.4 1063.2 907 1065.2 907.1 1067.2 907.5 1069.2 908.3 1071.2 909.4 1073.2 910.9 1075.2 911.9 1077.2 912 1079.2 913.3 1081.2 915.6 1083.2 919.1 1085.2 922.8 1087.2 925.6 1089.2 929.4 1091.2 932.3 1093.2 936 1095.2 938.3 1097.2 941.3 1099.2 943.8 1101.2 946 1103.2 948.2 1105.2 950.5 1107.2 952.9 1109.2 955.1 1111.2 956.4 1113.2 958.7 1115.2 960.2 1117.2 963 1119.2 964.7 1121.2 967.8 1123.2 970.6 1125.2 974.8 1127.2 978.1 1129.2 983 1131.2 987.3 1133.2 993.2 1135.2 997.9 1137.2 1002.8 1139.2 1007.8 1141.2 1011.7 1143.2 1016.4 1145.2 1020.1 1147.2 1024.8 1149.2 1028.6 1151.2 1032.1 1153.2 1035.3 1155.2 1038.5 1157.2 1041.4 1159.2 1045 1161.2 1049.6 1163.2 1053.8 1165.2 1058.2 1167.2 1061.4 1169.2 1066 1171.2 1069.9 1173.2 1075.6 1175.2 1079.7 1177.2 1084.2 1179.2 1087.4 1181.2 1091 1183.2 1094.1 1185.2 1096.1 1187.2 1097.3 1189.2 1097.9 1191.2 1097.9 1193.2 1097.3 1195.2 1094.9 1197.2 1091.7 1199.2 1087.8 1201.2 1083 1203.2 1078.1 1205.2 1073.8 1207.2 1071.3 1209.2 1068.9 1211.2 1065.1 1213.2 1061.6 1215.2 1057.6 1217.2 1055 1219.2 1050.8 1221.2 1048.1 1223.2 1043.9 1225.2 1040 1227.2 1034.2 1229.2 1028.4 1231.2 1023 1233.2 1017.4 1235.2 1012.1 1237.2 1006.6 1239.2 1001.3 1241.2 995.7 1243.2 990.6 1245.2 985.6 1247.2 981.2 1249.2 976.7 1251.2 972.7 1253.2 969.4 1255.2 967 1257.2 964.8 1259.2 962.5 1261.2 960.9 1263.2 961.3 1265.2 963 1267.2 965.7 1269.2 968.1 1271.2 970.9 1273.2 974.4 1275.2 978.2 1277.2 982.3 1279.2 986 1281.2 989.9 1283.2 993.2 1285.2 995.8 1287.2 998.2 1289.2 1002 1291.2 1005.9 1293.2 1010 1295.2 1012.9 1297.2 1015 1299.2 1017.4 1301.2 1020.1 1303.2 1024.7 1305.2 1028.7 1307.2 1033.5 1309.2 1036.6 1311.2 1040.3 1313.2 1043.6 1315.2 1047 1317.2 1049.1 1319.2 1050.1 1321.2 1048.3 1323.2 1045.7 1325.2 1040.8 1327.2 1035.7 1329.2 1030.5 1331.2 1025.2 1333.2 1020 1335.2 1012.8 1337.2 1006.6 1339.2 1000.2 1341.2 994.7 1343.2 988.1 1345.2 982.6 1347.2 977.9 1349.2 974.1 1351.2 970.3 1353.2 967.4 1355.2 964.2 1357.2 962 1359.2 959 1361.2 955.8 1363.2 952.1 1365.2 947.7 1367.2 944.5 1369.2 940.1 1371.2 937.2 1373.2 934.2 1375.2 932.9 1377.2 931.6 1379.2 931 1381.2 931 1383.2 932.7 1385.2 934.2 1387.2 936 1389.2 937.8 1391.2 939.2 1393.2 940.5 1395.2 941.4 1397.2 944 1399.2 946.5 1401.2 949.2 1403.2 951.7 1405.2 953.9 1407.2 956.4 1409.2 958.3 1411.2 961.8 1413.2 964.6 1415.2 969 1417.2 972 1419.2 974.8 1421.2 977.2 1423.2 979.9 1425.2 982.3 1427.2 983.6 1429.2 985 1431.2 986.6 1433.2 987.7 1435.2 988.3 1437.2 989.2 1439.2 992.1 1441.2 995.4 1443.2 998 1445.2 1000.3 1447.2 1002.5 1449.2 1005.9 1451.2 1009.3 1453.2 1012.9 1455.2 1015.6 1457.2 1017.5 1459.2 1019.6 1461.2 1021.9 1463.2 1024.1 1465.2 1026 1467.2 1027.6 1469.2 1029.5 1471.2 1030.7 1473.2 1032 1475.2 1033 1477.2 1033.7 1479.2 1034.8 1481.2 1035.6 1483.2 1037.2 1485.2 1038.1 1487.2 1040.2 1489.2 1043.1 1491.2 1046.2 1493.2 1049.3 1495.2 1051.5 1497.2 1053.9 1499.2 1055.8 1501.2 1056.5 1503.2 1057.4 1505.2 1057.8 1507.2 1059.5 1509.2 1060.7 1511.2 1061.8 1513.2 1062.9 1515.2 1062.6 1517.2 1063.1 1519.2 1062.6 1521.2 1062.5 1523.2 1061 1525.2 1058.8 1527.2 1056.4 1529.2 1054.1 1531.2 1052.6 1533.2 1052.2 1535.2 1052.5 1537.2 1053 1539.2 1054.9 1541.2 1055.9 1543.2 1055.6 1545.2 1054.1 1547.2 1052.5 1549.2 1050.9 1551.2 1047.3 1553.2 1043.1 1555.2 1038.4 1557.2 1033.8 1559.2 1029.1 1561.2 1025.2 1563.2 1021.5 1565.2 1020 1567.2 1020 1569.2 1019.5 1571.2 1018.4 1573.2 1015.5 1575.2 1013.6 1577.2 1011.9 1579.2 1011.5 1581.2 1011 1583.2 1010.2 1585.2 1008.6 1587.2 1007.6 1589.2 1005.6 1591.2 1004.9 1593.2 1003.5 1595.2 1002.5 1597.2 1001.4 1599.2 1001.5 1601.2 1002.8 1603.2 1004.4 1605.2 1005.9 1607.2 1008.3 1609.2 1011.5 1611.2 1015.9 1613.2 1020.9 1615.2 1026.5 1617.2 1029.6 1619.2 1031 1621.2 1030.8 1623.2 1030.5 1625.2 1030.4 1627.2 1030.1 1629.2 1031.1 1631.2 1031.6 1633.2 1032.3 1635.2 1032.2 1637.2 1032.1 1639.2 1031.5 1641.2 1031 1643.2 1029.7 1645.2 1027.9 1647.2 1025.2 1649.2 1022.1 1651.2 1019.3 1653.2 1016.3 1655.2 1013 1657.2 1010.3 1659.2 1007.5 1661.2 1005 1663.2 1002.1 1665.2 999.8 1667.2 997.8 1669.2 994.9 1671.2 991.7 1673.2 987.9 1675.2 984.8 1677.2 982 1679.2 979.6 1681.2 977.3 1683.2 975.1 1685.2 973 1687.2 970.2 1689.2 968.6 1691.2 968 1693.2 967.3 1695.2 966.4 1697.2 965.5 1699.2 965.4 1701.2 965.5 1703.2 966.5 1705.2 967.7 1707.2 968.1 1709.2 968.1 1711.2 967.6 1713.2 966.8 1715.2 966.8" stroke="#1B9E77" stroke-opacity="0.95" stroke-width="4.0" fill="none" stroke-linejoin="round" stroke-linecap="round"/>
<path d="M195.9 780.7 196.9 790.8 197.9 796.9 199 794.7 200 790.9 201.1 789.2 202.1 785.3 203.1 779.6 204.2 783.6 205.2 794.7 206.3 801.5 207.3 797.9 208.3 793.2 209.4 791.2 210.4 786 211.5 779.7 212.5 782.7 213.5 795.2 214.6 800.4 215.6 800.3 216.7 798.7 217.7 799.5 218.7 797 219.8 792 220.8 794.5 221.9 804.3 222.9 810.6 223.9 808.8 225 804.9 226 803.5 227.1 800.1 228.1 795.1 229.1 798.3 230.2 808.7 231.2 816.6 232.3 814 233.3 808.1 234.3 804.9 235.4 798.4 236.4 791.7 237.5 793.5 238.5 804.5 239.5 812.3 240.6 809 241.6 803.2 242.7 799.5 243.7 792.4 244.7 786 245.8 788.3 246.8 799.7 247.9 801.7 248.9 799.7 249.9 797.1 251 794.5 252 792.1 253.1 787.5 254.1 788.1 255.1 795.7 256.2 799.7 257.2 797.1 258.3 793.7 259.3 792.6 260.3 787.8 261.4 784 262.4 785 263.5 790.8 264.5 793.2 265.5 790 266.6 784.7 267.6 781.6 268.7 775.8 269.7 773.9 270.7 776.3 271.8 785.1 272.8 793.3 273.9 792.9 274.9 790 275.9 789.3 277 786.9 278 782.5 279.1 785.6 280.1 794.7 281.1 799 282.2 798.5 283.2 797.2 284.3 795.5 285.3 793.6 286.3 790.7 287.4 791.9 288.4 798.2 289.5 805 290.5 803.7 291.5 800 292.6 798.4 293.6 795.9 294.7 791.7 295.7 794.5 296.7 803.9 297.8 811 298.8 811.9 299.9 808.9 300.9 809.4 301.9 808.9 303 807.4 304 810.6 305.1 816.6 306.1 819.1 307.1 819.7 308.2 819.5 309.2 821.6 310.3 820.7 311.3 821.5 312.3 822.9 313.4 824.4 314.4 829.4 315.5 831 316.5 829 317.5 828.4 318.6 824.9 319.6 819.8 320.7 822 321.7 833.5 322.7 842.3 323.8 841.2 324.8 837.1 325.9 834.8 326.9 830.9 327.9 824.2 329 825.7 330 834.6 331.1 839.7 332.1 839.7 333.1 837 334.2 835.8 335.2 833.8 336.3 830.6 337.3 831.3 338.3 836.6 339.4 843.5 340.4 842 341.5 835.5 342.5 828.1 343.5 820 344.6 816.7 345.6 819 346.7 824.2 347.7 825.5 348.7 824.6 349.8 825.8 350.8 825.1 351.9 826.3 352.9 825 353.9 826.8 355 827.4 356 833.3 357.1 836.6 358.1 837.4 359.1 837.6 360.2 838.4 361.2 837.6 362.3 837.4 363.3 842 364.3 848.1 365.4 848.4 366.4 849.2 367.5 848.6 368.5 847 369.5 843.9 370.6 845.1 371.6 848.6 372.7 853.2 373.7 853.6 374.7 850.3 375.8 849.4 376.8 845.6 377.9 842.5 378.9 841.9 379.9 847.6 381 851.9 382 849.5 383.1 846.4 384.1 844.9 385.1 842 386.2 839.3 387.2 838 388.3 842.5 389.3 846.7 390.3 845.7 391.4 844.3 392.4 843.1 393.5 841.6 394.5 838.6 395.5 838.9 396.6 842.7 397.6 847.1 398.7 847.3 399.7 846.1 400.7 845.3 401.8 843.3 402.8 839.6 403.9 839.3 404.9 843.3 405.9 846.9 407 846.2 408 843.4 409.1 840.8 410.1 838 411.1 833.2 412.2 831.8 413.2 837.9 414.3 842 415.3 838.6 416.3 835.7 417.4 832.4 418.4 829.9 419.5 825.4 420.5 824.7 421.5 831.1 422.6 837.4 423.6 836.9 424.7 832.3 425.7 828.3 426.7 825.8 427.8 825.2 428.8 826 429.9 831.4 430.9 836.3 431.9 835.3 433 831.5 434 829.8 435.1 826.3 436.1 822.8 437.1 822.1 438.2 826.5 439.2 831.1 440.3 833.2 441.3 829.7 442.3 829.1 443.4 825.4 444.4 819.6 445.5 817.6 446.5 821 447.5 826.9 448.6 829.3 449.6 828.6 450.7 828.4 451.7 828.4 452.7 826.9 453.8 828.1 454.8 830.1 455.9 832.3 456.9 833.3 457.9 832.7 459 834.7 460 837.3 461.1 839.8 462.1 842.2 463.1 846 464.2 851.1 465.2 852.9 466.3 854.6 467.3 855.6 468.3 857.3 469.4 856.3 470.4 858.5 471.5 861.6 472.5 864.3 473.5 866.3 474.6 866.9 475.6 867.6 476.7 866.3 477.7 864.6 478.7 862.2 479.8 864.2 480.8 868.3 481.9 870.1 482.9 871.5 483.9 866.4 485 861.3 486 860.5 487.1 859.9 488.1 860.2 489.1 862.3 490.2 861.3 491.2 861.1 492.3 860.8 493.3 859.6 494.3 853.6 495.4 851.4 496.4 852.1 497.5 851.7 498.5 852.7 499.5 852.6 500.6 853 501.6 853.6 502.7 853.5 503.7 855.3 504.7 859.5 505.8 862.5 506.8 864.7 507.9 866 508.9 867.4 509.9 868.4 511 867.9 512 869.1 513.1 871.8 514.1 877.1 515.1 876.8 516.2 876.8 517.2 876.6 518.3 877.2 519.3 875.4 520.3 874.2 521.4 874.8 522.4 876.1 523.5 877.9 524.5 878.8 525.5 871.2 526.6 863.5 527.6 858.7 528.7 858.4 529.7 860 530.7 863.3 531.8 865.6 532.8 863.9 533.9 863.4 534.9 861.7 535.9 861 537 860.3 538 861.7 539.1 862.5 540.1 864.7 541.1 866.9 542.2 869.8 543.2 870.8 544.3 870.5 545.3 870.7 546.3 874.8 547.4 877.8 548.4 881.3 549.5 882.4 550.5 883.4 551.5 885.6 552.6 886.9 553.6 889 554.7 891 555.7 892.8 556.7 895.2 557.8 896 558.8 893.2 559.9 888.8 560.9 886.2 561.9 885 563 885.8 564 885.8 565.1 885.8 566.1 883.8 567.1 883 568.2 881.5 569.2 879.3 570.3 878.7 571.3 880.6 572.3 881 573.4 880.2 574.4 877.9 575.5 875.7 576.5 872.6 577.5 872.5 578.6 872.1 579.6 872.9 580.7 872.4 581.7 872.8 582.7 872.6 583.8 869.8 584.8 864.7 585.9 859.5 586.9 858.6 587.9 858.5 589 858 590 860.8 591.1 866.9 592.1 868.7 593.1 871.3 594.2 872.5 595.2 874.1 596.3 875.1 597.3 877.4 598.3 877.8 599.4 878.1 600.4 873.1 601.5 869.3 602.5 865.4 603.5 865.6 604.6 866.9 605.6 868.4 606.7 867.1 607.7 865.6 608.7 865.3 609.8 864.2 610.8 864.7 611.9 864 612.9 864.7 613.9 866.8 615 866 616 867.1 617.1 867.5 618.1 867.4 619.1 867.2 620.2 867.1 621.2 869.9 622.3 874.2 623.3 877.6 624.3 877.6 625.4 877.1 626.4 877.3 627.5 874.7 628.5 871.3 629.5 870.4 630.6 872.1 631.6 872.7 632.7 873.1 633.7 874.4 634.7 874.7 635.8 875.4 636.8 876.3 637.9 876.8 638.9 878.8 639.9 878.8 641 879.8 642 879.8 643.1 879 644.1 870.8 645.1 869.3 646.2 867.9 647.2 868.5 648.3 870.7 649.3 873.3 650.3 874.3 651.4 874.2 652.4 873.6 653.5 874.2 654.5 874.3 655.5 876.6 656.6 879.3 657.6 882.3 658.7 882.9 659.7 882.9 660.7 883.5 661.8 885 662.8 885.7 663.9 886.9 664.9 887.5 665.9 887.1 667 888.4 668 888.1 669.1 888.3 670.1 888.5 671.1 888.7 672.2 890.7 673.2 891.2 674.3 890 675.3 890.2 676.3 881.7 677.4 877.2 678.4 875.3 679.5 875.1 680.5 874.6 681.5 876 682.6 877.4 683.6 878 684.7 878.5 685.7 880 686.7 881.6 687.8 883.1 688.8 885.4 689.9 887.9 690.9 890.8 691.9 891.1 693 891.9 694 892.7 695.1 894.4 696.1 895.5 697.1 896.2 698.2 896.9 699.2 898.2 700.3 899.5 701.3 899.4 702.3 899.3 703.4 898.9 704.4 898.7 705.5 898.8 706.5 898.4 707.5 897.9 708.6 898.5 709.6 898.8 710.7 898.5 711.7 898.2 712.7 899.4 713.8 900.2 714.8 900.7 715.9 900.9 716.9 901.5 717.9 901.3 719 901.9 720 902.6 721.1 903.3 722.1 903.8 723.1 904 724.2 904 725.2 903.8 726.3 905.5 727.3 902.4 728.3 905.6 729.4 902.1 730.4 905.9 731.5 902.3 732.5 905.7 733.5 902.5 734.6 905.7 735.6 902.1 736.7 905.9 737.7 901.9 738.7 906.3 739.8 902.5 740.8 906.3 741.9 902.7 742.9 906 743.9 901.8 745 905.7 746 902.2 747.1 905.8 748.1 902.6 749.1 906.1 750.2 902.3 751.2 905.8 752.3 902 753.3 905.4 754.3 902.3 755.4 906.3 756.4 902.3 757.5 906.1 758.5 902.5 759.5 906.1 760.6 902.1 761.6 905.4 762.7 902.1 763.7 906.2 764.7 903 765.8 906.3 766.8 902.3 767.9 905.8 768.9 902 769.9 905.6 771 901.9 772 906.2 773.1 902.8 774.1 906 775.1 902.2 776.2 906.1 777.2 903.1 778.3 906.9 779.3 903.5 780.3 907.9 781.4 905.1 782.4 908.3 783.5 904.8 784.5 908.3 785.5 904.1 786.6 907.4 787.6 904.6 788.7 908 789.7 904.4 790.7 908.2 791.8 904.5 792.8 907.7 793.9 904.6 794.9 907.6 795.9 904.6 797 907.9 798 904.4 799.1 908.5 800.1 904.4 801.1 908.3 802.2 904.3 803.2 907.8 804.3 903.9 805.3 907.9 806.3 904.8 807.4 908.5 808.4 904.8 809.5 908.3 810.5 904.5 811.5 908 812.6 904 813.6 907.8 814.7 904.5 815.7 908.2 816.7 904.4 817.8 907.6 818.8 904 819.9 907.5 820.9 904.1 821.9 907.9 823 904.7 824 908.2 825.1 904.8 826.1 907.8 827.1 904.7 828.2 907.6 829.2 904.4 830.3 907 831.3 908 832.3 910 833.4 910.6 834.4 910.4 835.5 909.9 836.5 909.8 837.5 909.6 838.6 909.9 839.6 909.9 840.7 910.3 841.7 910.4 842.7 910.3 843.8 910.2 844.8 910.1 845.9 910.8 846.9 911.2 847.9 911.1 849 911.3 850 910.9 851.1 911.2 852.1 911 853.1 911.4 854.2 911.3 855.2 911.9 856.3 911.9 857.3 911.5 858.3 911.7 859.4 912 860.4 912 861.5 911.6 862.5 911.3 863.5 911.6 864.6 911.6 865.6 911.7 866.7 911.2 867.7 910.5 868.7 911 869.8 910.2 870.8 910.7 871.9 911.6 872.9 911.8 873.9 912 875 911.9 876 912 877.1 912 878.1 912.4 879.1 912.4 880.2 912.8 881.2 913.2 882.3 913.3 883.3 914 884.3 913.7 885.4 913.5 886.4 913.4 887.5 912.9 888.5 913.3 889.5 913.2 890.6 912.7 891.6 912.2 892.7 911.8 893.7 911.4 894.7 911.1 895.8 910.4 896.8 910.6 897.9 910.9 898.9 910.6 899.9 910 901 909.7 902 909.4 903.1 909.4 904.1 909.2 905.1 909.9 906.2 910.1 907.2 909.9 908.3 909.7 909.3 909.8 910.3 909.3 911.4 908.9 912.4 908.8 913.5 909 914.5 909.6 915.5 909.6 916.6 909.2 917.6 908.7 918.7 909 919.7 908.8 920.7 908.5 921.8 909 922.8 908.8 923.9 909.2 924.9 908.6 925.9 908.9 927 909.1 928 908.9 929.1 908.7 930.1 909.4 931.1 909.5 932.2 909.7 933.2 909.2 934.3 909.2 935.3 909.1 936.3 908.4 937.4 908.5 938.4 908.9 939.5 909.2 940.5 909.8 941.5 909.4 942.6 909.4 943.6 909.4 944.7 908.6 945.7 909.2 946.7 909.3 947.8 909.5 948.8 909.7 949.9 909.6 950.9 909.4 951.9 909.4 953 909.3 954 909 955.1 909.7 956.1 909.7 957.1 910.4 958.2 910.5 959.2 910.8 960.3 911.4 961.3 911.2 962.3 911.4 963.4 912.3 964.4 912.9 965.5 913.7 966.5 913.3 967.5 914.1 968.6 914.4 969.6 914.4 970.7 915.4 971.7 916.2 972.7 916.9 973.8 917.7 974.8 917.4 975.9 918.3 976.9 918.7 977.9 919.5 979 920.3 980 921.8 981.1 923 982.1 923.2 983.1 924.2 984.2 925 985.2 924.7 986.3 924.9 987.3 925.7 988.3 925.6 989.4 926.5 990.4 926.8 991.5 926.6 992.5 924.3 993.5 923.2 994.6 920.5 995.6 918.8 996.7 918.3 997.7 917.9 998.7 917.8 999.8 917.7 1000.8 917.2 1001.9 916.9 1002.9 916.7 1003.9 915.8 1005 916.5 1006 916.2 1007.1 916 1008.1 915.3 1009.1 915.9 1010.2 915.4 1011.2 915.1 1012.3 915.3 1013.3 915.3 1014.3 915.9 1015.4 915.8 1016.4 915.2 1017.5 914.9 1018.5 914.9 1019.5 915.1 1020.6 914.5 1021.6 914.9 1022.7 914.9 1023.7 914.9 1024.7 915.2 1025.8 914.6 1026.8 914.1 1027.9 914.4 1028.9 914.5 1029.9 914.2 1031 913.8 1032 913.7 1033.1 913.6 1034.1 913 1035.1 912.2 1036.2 912.3 1037.2 911.7 1038.3 911.8 1039.3 911.5 1040.3 911.1 1041.4 910.8 1042.4 910.3 1043.5 910.2 1044.5 909.6 1045.5 910.2 1046.6 910.4 1047.6 910.5 1048.7 910.1 1049.7 910.5 1050.7 910.4 1051.8 909.5 1052.8 909.4 1053.9 909.2 1054.9 909.6 1055.9 910.3 1057 910.4 1058 909.8 1059.1 909.6 1060.1 909.7 1061.1 909.5 1062.2 909.2 1063.2 909.5 1064.3 909.9 1065.3 910.1 1066.3 910.1 1067.4 910 1068.4 910.7 1069.5 910.4 1070.5 910.7 1071.5 911.1 1072.6 911.8 1073.6 911.5 1074.7 912.1 1075.7 912.3 1076.7 911.5 1077.8 911.3 1078.8 910.7 1079.9 911.3 1080.9 911.1 1081.9 911.4 1083 913.3 1084 914.5 1085.1 915.2 1086.1 916.7 1087.1 917.4 1088.2 918.8 1089.2 919.2 1090.3 919.6 1091.3 920.2 1092.3 920.8 1093.4 920 1094.4 919.9 1095.5 918.8 1096.5 918.5 1097.5 918.5 1098.6 918.8 1099.6 918.8 1100.7 919.1 1101.7 919.4 1102.7 919.4 1103.8 921.7 1104.8 924.5 1105.9 926.6 1106.9 929.6 1107.9 931.2 1109 933.2 1110 935.4 1111.1 937.3 1112.1 939.3 1113.1 941.8 1114.2 943 1115.2 944.6 1116.3 946.1 1117.3 947.9 1118.3 949.1 1119.4 950.4 1120.4 951.4 1121.5 952.6 1122.5 954.7 1123.5 955.7 1124.6 955.8 1125.6 953.2 1126.7 951.2 1127.7 948.4 1128.7 946.4 1129.8 946 1130.8 945.8 1131.9 944.3 1132.9 943.2 1133.9 942.2 1135 941.3 1136 940.2 1137.1 939.6 1138.1 939.1 1139.1 938.3 1140.2 937.2 1141.2 935.7 1142.3 934.8 1143.3 933.2 1144.3 933.4 1145.4 932.7 1146.4 932.9 1147.5 932.5 1148.5 932.6 1149.5 933.9 1150.6 935.4 1151.6 936.6 1152.7 937.8 1153.7 939.6 1154.7 941.3 1155.8 942.4 1156.8 944.3 1157.9 944.9 1158.9 946 1159.9 947.1 1161 948.5 1162 949.1 1163.1 950.6 1164.1 951.7 1165.1 952.8 1166.2 952.7 1167.2 954.1 1168.3 954.3 1169.3 955.2 1170.3 955.5 1171.4 956.9 1172.4 957.7 1173.5 957.7 1174.5 957.7 1175.5 957.8 1176.6 958.4 1177.6 958.1 1178.7 958 1179.7 958.7 1180.7 958.8 1181.8 959.1 1182.8 958.8 1183.9 958.8 1184.9 958.8 1185.9 958.9 1187 959 1188 959.8 1189.1 960.8 1190.1 961.8 1191.1 962.5 1192.2 963.6 1193.2 964.7 1194.3 965.2 1195.3 966.6 1196.3 967.9 1197.4 968.8 1198.4 969.4 1199.5 970.2 1200.5 969.9 1201.5 970.4 1202.6 971.1 1203.6 971.5 1204.7 971.8 1205.7 972.3 1206.7 973.3 1207.8 973.3 1208.8 973.7 1209.9 972.9 1210.9 973.1 1211.9 972.6 1213 973.5 1214 973.8 1215.1 973.5 1216.1 973.4 1217.1 973.4 1218.2 973.3 1219.2 972.4 1220.3 972.5 1221.3 971.9 1222.3 969.7 1223.4 967.8 1224.4 966 1225.5 963.4 1226.5 961.4 1227.5 958.8 1228.6 957 1229.6 957.1 1230.7 956.6 1231.7 955.5 1232.7 955.4 1233.8 954.6 1234.8 953.5 1235.9 953.1 1236.9 951.8 1237.9 951.4 1239 951.6 1240 951.1 1241.1 950.5 1242.1 950 1243.1 949.5 1244.2 948.9 1245.2 948.7 1246.3 948.7 1247.3 948.6 1248.3 949.1 1249.4 948.3 1250.4 948.1 1251.5 948.5 1252.5 947.8 1253.5 947.4 1254.6 947.7 1255.6 947.8 1256.7 947.7 1257.7 948.1 1258.7 947.2 1259.8 946.7 1260.8 945.2 1261.9 943.9 1262.9 943.6 1263.9 942.6 1265 941.1 1266 940.6 1267.1 940.1 1268.1 939.3 1269.1 938.5 1270.2 937.8 1271.2 937.3 1272.3 937.4 1273.3 937.8 1274.3 937.6 1275.4 937.1 1276.4 937.3 1277.5 936.5 1278.5 936.7 1279.5 936.9 1280.6 936.6 1281.6 936.8 1282.7 936.6 1283.7 936.2 1284.7 936.7 1285.8 936 1286.8 936 1287.9 935.7 1288.9 938 1289.9 940 1291 942 1292 943.2 1293.1 945.6 1294.1 946.7 1295.1 948.7 1296.2 950.4 1297.2 952.2 1298.3 953.6 1299.3 955.1 1300.3 956.8 1301.4 958 1302.4 959.2 1303.5 961.1 1304.5 962.9 1305.5 964 1306.6 965.3 1307.6 967 1308.7 967.6 1309.7 968.5 1310.7 970.1 1311.8 970.7 1312.8 971.8 1313.9 972.8 1314.9 973.2 1315.9 973.5 1317 973.9 1318 972.8 1319.1 970.8 1320.1 969.7 1321.1 967.8 1322.2 966.3 1323.2 964.9 1324.3 964.4 1325.3 964.9 1326.3 964.5 1327.4 964.6 1328.4 964.5 1329.5 965.1 1330.5 966.9 1331.5 968.4 1332.6 969 1333.6 970.6 1334.7 971.4 1335.7 971.6 1336.7 972.2 1337.8 972 1338.8 973.2 1339.9 973.1 1340.9 973.5 1341.9 973.2 1343 972.6 1344 970.3 1345.1 968.6 1346.1 967 1347.1 964.7 1348.2 962.6 1349.2 959.9 1350.3 955.2 1351.3 950.2 1352.3 945 1353.4 939.8 1354.4 937.2 1355.5 936.7 1356.5 937.3 1357.5 936.6 1358.6 936.2 1359.6 933.5 1360.7 929.9 1361.7 926.3 1362.7 923.3 1363.8 919.6 1364.8 919.2 1365.9 919.2 1366.9 919.7 1367.9 919.7 1369 919.9 1370 920.4 1371.1 921.1 1372.1 923.1 1373.1 923.6 1374.2 924.8 1375.2 926.1 1376.3 926.6 1377.3 927.7 1378.3 929.2 1379.4 931.7 1380.4 934.4 1381.5 937.4 1382.5 940.1 1383.5 941.6 1384.6 942.8 1385.6 943.3 1386.7 944.3 1387.7 946 1388.7 946.7 1389.8 948.4 1390.8 948.4 1391.9 947.6 1392.9 945.9 1393.9 944.8 1395 943 1396 942.1 1397.1 942.2 1398.1 942.4 1399.1 942.5 1400.2 942.2 1401.2 942.3 1402.3 942.6 1403.3 942.3 1404.3 942.2 1405.4 942.2 1406.4 942.9 1407.5 944.6 1408.5 945.1 1409.5 946.1 1410.6 947.1 1411.6 947.2 1412.7 947.5 1413.7 947.7 1414.7 947.8 1415.8 947.7 1416.8 947.9 1417.9 946.5 1418.9 943.1 1419.9 940 1421 938 1422 937.8 1423.1 938.8 1424.1 938.8 1425.1 939.5 1426.2 939.7 1427.2 939.9 1428.3 940.3 1429.3 941 1430.3 941.7 1431.4 942.1 1432.4 942.3 1433.5 942.5 1434.5 942.4 1435.5 942.9 1436.6 943.2 1437.6 943.9 1438.7 945 1439.7 945.6 1440.7 946.2 1441.8 947 1442.8 947.9 1443.9 948.3 1444.9 949.1 1445.9 950.1 1447 951.1 1448 952.1 1449.1 952.6 1450.1 953 1451.1 952.8 1452.2 952.2 1453.2 951.7 1454.3 951.1 1455.3 950.8 1456.3 950.8 1457.4 950 1458.4 949.6 1459.5 948.6 1460.5 949.1 1461.5 949.1 1462.6 949.3 1463.6 949.7 1464.7 951.7 1465.7 953.5 1466.7 956.6 1467.8 958.7 1468.8 961.5 1469.9 963.3 1470.9 966 1471.9 969.2 1473 969.6 1474 969.7 1475.1 969.5 1476.1 969.9 1477.1 969.7 1478.2 969.6 1479.2 969.8 1480.3 970.3 1481.3 971.2 1482.3 970.8 1483.4 971 1484.4 970.8 1485.5 971.4 1486.5 971.3 1487.5 971 1488.6 971.3 1489.6 971.5 1490.7 970.4 1491.7 969.6 1492.7 969.4 1493.8 968.3 1494.8 967.6 1495.9 967.7 1496.9 968.3 1497.9 967.8 1499 968.2 1500 967.9 1501.1 967.9 1502.1 967.3 1503.1 967 1504.2 967.3 1505.2 967.4 1506.3 967.5 1507.3 967.3 1508.3 967.7 1509.4 967.3 1510.4 966.9 1511.5 967.3 1512.5 966.8 1513.5 966.9 1514.6 967.3 1515.6 967.3 1516.7 967.3 1517.7 967.5 1518.7 967.4 1519.8 967.9 1520.8 967.9 1521.9 968.1 1522.9 969 1523.9 968.5 1525 968.8 1526 969.2 1527.1 969.5 1528.1 969.1 1529.1 969.3 1530.2 970.2 1531.2 970.9 1532.3 970.7 1533.3 971.1 1534.3 971.5 1535.4 971.5 1536.4 971.9 1537.5 971.7 1538.5 972.9 1539.5 972.9 1540.6 973.3 1541.6 973.8 1542.7 973.2 1543.7 973.2 1544.7 972.5 1545.8 972.6 1546.8 972.3 1547.9 972.6 1548.9 972.3 1549.9 971.8 1551 971.7 1552 971 1553.1 969.6 1554.1 968 1555.1 966.6 1556.2 966.7 1557.2 966.6 1558.3 966.4 1559.3 966.5 1560.3 966.3 1561.4 966.5 1562.4 967.3 1563.5 969.4 1564.5 970.6 1565.5 972.5 1566.6 973.2 1567.6 975 1568.7 975 1569.7 975 1570.7 975.5 1571.8 975.5 1572.8 975.7 1573.9 975.3 1574.9 974.2 1575.9 970.9 1577 967.1 1578 964 1579.1 961.1 1580.1 959 1581.1 957.7 1582.2 956.5 1583.2 955 1584.3 953 1585.3 951 1586.3 951.4 1587.4 953.4 1588.4 955.5 1589.5 957.4 1590.5 959.1 1591.5 960.7 1592.6 961.3 1593.6 962.2 1594.7 962.7 1595.7 962.8 1596.7 963.3 1597.8 964.4 1598.8 964.7 1599.9 964.9 1600.9 964.9 1601.9 963.9 1603 962.3 1604 961.2 1605.1 960.2 1606.1 958.8 1607.1 959.2 1608.2 959.6 1609.2 960 1610.3 960.4 1611.3 960.4 1612.3 961.1 1613.4 961.9 1614.4 962.1 1615.5 962 1616.5 961.8 1617.5 961.9 1618.6 961.8 1619.6 962.4 1620.7 962.3 1621.7 962.9 1622.7 963.4 1623.8 964.8 1624.8 965.9 1625.9 967.6 1626.9 969 1627.9 969.9 1629 971.2 1630 972.5 1631.1 973.5 1632.1 973.6 1633.1 974.2 1634.2 972.9 1635.2 972.3 1636.3 971.5 1637.3 971 1638.3 971.2 1639.4 972.5 1640.4 973.2 1641.5 974.5 1642.5 975.4 1643.5 976.1 1644.6 976.7 1645.6 978 1646.7 979.2 1647.7 981.3 1648.7 982 1649.8 981.5 1650.8 980.6 1651.9 979.1 1652.9 978.1 1653.9 976.9 1655 976.2 1656 975.8 1657.1 975.2 1658.1 974.7 1659.1 974.6 1660.2 974.4 1661.2 973.8 1662.3 974 1663.3 973.9 1664.3 973.4 1665.4 973.8 1666.4 973.5 1667.5 971.1 1668.5 966.4 1669.5 961.1 1670.6 956.5 1671.6 957.5 1672.7 960.1 1673.7 959.3 1674.7 958.5 1675.8 958 1676.8 957.2 1677.9 955.4 1678.9 955.3 1679.9 957.8 1681 959.8 1682 961.5 1683.1 960.9 1684.1 960.8 1685.1 960.7 1686.2 958.9 1687.2 958.9 1688.3 961.8 1689.3 964.4 1690.3 963.6 1691.4 962.1 1692.4 959.9 1693.5 958.1 1694.5 955.5 1695.5 953.8 1696.6 954.9 1697.6 956.4 1698.7 956.7 1699.7 954.9 1700.7 953 1701.8 951.4 1702.8 948 1703.9 947.5 1704.9 952.5 1705.9 956.9 1707 956.5 1708 956.1 1709.1 955.2 1710.1 953.5 1711.1 950.7 1712.2 950.4 1713.2 953.3 1714.3 956" stroke="#D4650F" stroke-opacity="0.93" stroke-width="4.2" fill="none" stroke-linejoin="round" stroke-linecap="round"/>
<path d="M197.5 1145.6 697 1145.6 697.8 1145.6 700 1144.2 700.3 1144 700.9 1144.1 701.8 1144.4 702.7 1144.7 703.6 1144.9 704.5 1145.2 704.7 1145.2 705.4 1145.2 706.3 1145.2 707.2 1145.2 708.1 1145.2 709 1145.2 709.9 1145.2 710.8 1145.2 711.7 1145.2 712.3 1145.2 712.6 1145 713.5 1144.1 714.4 1143.2 715.3 1142.3 716.2 1141.4 716.2 1141.4 717.1 1141.6 718 1141.7 718.9 1141.8 719.8 1141.9 720.7 1142 721.2 1142.1 721.6 1138 722.5 1128.1 723.4 1118.2 723.8 1114.2 724.3 1113.1 725.2 1111.4 725.4 1110.5 726.1 1111 727 1111.7 727.9 1111.5 728.2 1111.6 728.8 1107.6 729.7 1101.6 729.7 1101.5 730.6 1103 731.5 1104.1 732.4 1105.7 732.6 1104.7 733.3 1108.9 733.9 1112.9 734.2 1112.6 735.1 1110.9 736 1110.4 736.9 1110.3 737.7 1111 737.8 1111.3 738.7 1114.4 739.6 1117.6 740.3 1119.8 740.5 1120.5 741.4 1120.7 742.3 1118.9 743.2 1120.9 744.1 1117.9 745 1119 745.9 1118.3 746.8 1118.7 747.7 1118.9 748.6 1119 749.5 1118.6 750.4 1117.9 751.3 1117.8 752.2 1117.8 752.3 1119.3 752.9 1124.7 753.1 1124.7 754 1123.1 754.9 1121.5 755.5 1120.5 755.8 1118.2 756.7 1111.9 756.7 1111.6 757.6 1110.6 758.5 1110.2 759.4 1111.5 760.3 1111 761.2 1109.8 762.1 1109.4 762.5 1110.7 763 1110.4 763.9 1110.5 764.8 1112.4 765.7 1113.5 766.3 1112.1 766.6 1113.5 767.5 1112 768.4 1114.1 769.3 1113.8 770.2 1112.1 771.1 1111.4 772 1113.9 772.9 1112.5 773.8 1111.1 773.9 1111 774.7 1108.7 775.6 1104.9 776.4 1101.5 776.5 1099.8 777.4 1083.6 777.7 1078.6 778.3 1077.4 778.9 1076.1 779.2 1068.4 780.1 1041.4 780.2 1038.1 781 1033.3 781.5 1030.4 781.9 1031.7 782.8 1029.7 783.7 1032.6 784.6 1033 785.5 1032.2 786.4 1031.4 786.6 1033.8 787.3 1033.5 788.2 1034.2 789.1 1033 790 1034.2 790.9 1032.1 791.8 1032.1 792.7 1033.3 793.6 1033.2 794.5 1033.2 795.4 1033.7 796.3 1033 797.2 1032.9 798.1 1033.3 799 1032.6 799.9 1031.5 800.8 1033.1 801.7 1031.2 802.6 1032.6 803.5 1032 804.4 1031.4 805.3 1030.7 805.6 1031.7 806.2 1023.7 806.8 1015.2 807.1 1013.3 808 1006.6 808.1 1005.7 808.9 1004.9 809.8 1006.5 810.7 1004.2 811.3 1005.1 811.6 1009 812.5 1020.4 813.2 1029.2 813.4 1030.9 814.3 1031.6 815.2 1032.9 816.1 1031.1 816.4 1031.9 817 1032.8 817.9 1033.6 818.8 1032.2 819.7 1032.8 820.6 1031 821.5 1032.8 822.4 1032.9 823.3 1031.8 824.2 1030.9 825.1 1031.7 826 1032.6 826.9 1032 827.1 1031.7 827.8 1025.2 828.7 1016.2 829 1012.7 829.6 1009 830.5 1003 831 1000 831.4 960.3 831.5 955.1 832.3 939.9 832.7 932.2 833.2 931.3 834.1 929.5 835 927.7 835.3 927.1 835.9 923.3 836.8 917.9 837.7 912.5 837.8 911.9 838.6 909 839.5 905.6 840.3 901 840.4 901.5 841.3 903.2 842.2 900.8 843.1 901.4 844 903.1 844.9 901.4 845.4 901.8 845.8 899.4 846.7 894 847.6 888.6 847.9 886.6 848.5 884.7 849.4 881.7 850.3 878.7 851.2 875.7 851.8 873.9 852.1 873.2 853 871.4 853.9 869.6 854.3 869 854.8 868.9 855.7 868.1 856.6 868.4 857.5 867.7 858.4 867.5 859.3 869.3 860.2 867.2 860.6 868.3 861.1 870.7 862 875.4 862.9 880.1 863.2 881.5 863.8 886.5 864.7 893.7 865.6 900.9 865.7 901.8 866.5 903.8 867.4 901.5 868.2 903.8 868.3 903.4 869.2 897.3 870.1 891.2 870.8 886.6 871 883.9 871.9 873.1 872.8 862.3 873.3 856.1 873.7 852 874.6 842.3 875.5 832.6 876.4 822.9 876.6 820.6 877.3 819.3 878.2 817.6 878.4 818.4 879.1 817.8 880 819.3 880.9 819.3 881.8 817 882.7 817 883.6 819.9 884.5 818 884.7 818.6 885.4 827.1 886.3 838.6 887.2 850.1 887.3 851 888.1 853.2 888.5 854.9 889 854.5 889.9 855.1 890.8 853.5 891.7 854.5 892.6 854.7 893.5 853.3 893.6 854.8 894.4 869.4 895.3 886 896.2 901.8 896.2 902.4 897.1 915 898 927.6 898.7 937.3 898.9 940 899.8 951.6 900.5 960.1 900.7 960.2 901.6 959.7 902.5 959.2 903.4 959.8 904.3 960.3 905.2 960.9 906.1 960.6 907 960.8 907.9 960.7 908.8 960 909.7 959.8 910.6 960.6 911.5 961.2 912.4 961.8 913.3 961.5 914.2 960.7 915.1 961.6 916 959.1 916.9 961.6 917.8 959.7 918.7 961.2 919.6 961.7 920.5 960.1 921.4 960.4 922.3 962.3 923.2 960 924.1 961.6 925 960.5 925.9 960.3 926.8 961.7 927.7 960.7 928.6 961.6 929.5 960.1 930.4 962 931.3 961.7 932.2 961 933.1 962 934 962.4 934.9 962 935.8 960.5 936.7 961.9 937.6 961.6 938.5 962.3 939.4 960.9 940.3 961.1 941.2 960 942.1 960.4 943 961.4 943.9 961.5 944.8 962.1 945.7 960.7 946.6 960.2 947.5 960.5 948.4 961.3 949.3 960.5 950.2 960.3 951.1 962.3 952 962.9 952 960.2 952.9 953.6 953.8 945.5 954.5 938.8 954.7 936.6 955.6 924 956.5 911.4 957.1 903.3 957.4 902.3 958.3 899.6 959.2 896.9 959.6 895.6 960.1 891.3 961 883.2 961.9 875.1 962.2 872.8 962.8 866.4 963.7 857.4 964.6 848.4 964.7 847.4 965.5 834.8 966.4 820.6 966.5 819.5 967.3 824.7 968.2 830.4 968.5 832.4 969.1 826.2 970 817.2 970.9 808.2 971 806.8 971.8 796.8 972.7 785 973.1 780.2 973.6 781.6 974.5 780.9 975.4 781.2 976.1 780.2 976.3 781.5 977.2 787.8 977.4 789.1 978.1 784.5 979 778.7 979.2 777.7 979.9 763.2 980.8 745.8 981.2 738.4 981.7 736.3 982.6 732.7 983.5 729.1 983.7 728.2 984.4 727.1 985.3 725.6 986.2 724.1 987.1 722.6 987.5 721.5 988 723 988.9 720 989.8 721 990.7 722.5 991.6 719.2 991.8 720.6 992.5 728 993.4 738.1 993.9 743.4 994.3 753.4 995.2 774.2 995.9 790.4 996.1 791.1 997 789.2 997.9 791.7 998.8 789.9 999.7 790.3 1000.6 791.1 1001.5 790.7 1002.4 790.9 1003.3 792.3 1003.5 790.5 1004.2 794.5 1005.1 799.2 1006 803.9 1006.6 806.8 1006.9 805.8 1007.8 808.4 1008.7 807.6 1009.6 809.2 1010.5 810.8 1011.4 811.1 1011.6 810.7 1012.3 815.1 1012.9 819 1013.2 820.3 1014.1 818.4 1015 819.4 1015.9 818.8 1016.8 817.6 1017.7 818.7 1018.6 819.3 1019.5 818.9 1020.4 820.4 1021.3 817.8 1022.2 819.8 1023.1 819.4 1024 818.6 1024.9 819.2 1025.8 817.8 1026.7 819.3 1027.6 817.9 1028.1 819 1028.5 822.2 1029.4 829.5 1030.3 836.9 1030.7 839.8 1031.2 841.6 1032.1 844.6 1033 847.6 1033.9 850.6 1034.5 852.5 1034.8 853.9 1035.7 857.5 1036.6 861.1 1037.5 864.7 1038.3 867.7 1038.4 869.5 1039.3 881.2 1040.2 892.9 1040.8 900.7 1041.1 901.7 1042 901.1 1042.9 901.7 1043.8 901.8 1044.6 904.2 1044.7 903 1045.6 904.2 1046.5 904.4 1047.4 902.4 1048.3 902.3 1049.2 902.5 1050.1 903.3 1051 900.8 1051.9 902 1052.8 903.1 1053.5 902 1053.7 904 1054.6 912.3 1055.3 918.5 1055.5 919.3 1056.4 920.3 1057.3 921.1 1058.2 919 1059.1 920.9 1059.8 921 1060 922.2 1060.9 928.5 1061.1 929.9 1061.8 928.5 1062.7 929.2 1063.6 931.3 1063.6 929.5 1064.5 915.2 1064.9 908.3 1065.4 902.9 1066.3 893 1067.2 883.1 1067.4 880.4 1068.1 874.9 1069 867.4 1069.9 859.9 1070.5 855.1 1070.8 855.4 1071.7 853.2 1072.6 854.1 1073.5 855.7 1074.4 852.8 1075.1 853.8 1075.3 858.6 1076.2 876.2 1077.1 893.7 1077.6 903.3 1078 904.2 1078.9 904.5 1079.8 902.9 1080.7 902.6 1081.6 903.3 1082.5 902.6 1082.7 903.3 1083.4 862 1083.9 832.2 1084.3 826.7 1085.2 813.2 1086.1 799.7 1086.5 794.2 1087 783.6 1087.9 765.6 1088.8 747.6 1089 743.4 1089.7 742.8 1090.6 743.3 1091.5 743 1092.4 742.2 1092.8 742.2 1093.3 746.8 1094.2 755.3 1095.1 763.9 1095.3 766.3 1096 769.2 1096.9 773.4 1097.8 777.5 1098.4 780.2 1098.7 777.3 1099.6 768.9 1100.4 759.8 1100.5 762.2 1101.4 761.1 1102.3 760.6 1103 761.2 1103.2 757.3 1104.1 742.9 1105 728.5 1105.5 720.6 1105.9 718.2 1106.8 712.8 1107.7 707.4 1108 705.4 1108.6 704.6 1109.5 703.5 1110.4 702.3 1111.3 701.2 1112.2 700 1113.1 698.9 1114 697.7 1114.4 697.3 1114.9 697.2 1115.8 697 1116.7 696.9 1117.6 696.8 1118.5 696.6 1119.4 696.5 1120.3 696.4 1121.2 696.2 1122.1 696.1 1123 696 1123.9 695.8 1124.5 695.7 1124.8 695.8 1125.7 696.1 1126.6 696.4 1127.5 696.7 1128.4 697 1129.3 697.3 1130.2 697.6 1131.1 697.9 1132 698.2 1132.9 698.5 1133.8 698.8 1134.7 699.1 1135.6 699.4 1136.5 699.6 1137.4 699.9 1138.3 700.2 1138.5 700.3 1139.2 701.3 1140.1 702.6 1141 703.8 1141.9 705.1 1142.8 706.3 1143.7 707.6 1144.6 708.9 1144.8 709.2 1145.5 709.2 1146.4 709.2 1147.3 709.2 1148.2 709.2 1149.1 709.2 1149.9 709.2 1150 709 1150.9 707.2 1151.8 705.4 1152.7 703.6 1153.6 701.8 1153.7 701.6 1154.5 701 1155.4 700.3 1156.3 699.6 1157.2 698.9 1158.1 698.3 1158.8 697.8 1159 697.7 1159.9 697.6 1160.8 697.4 1161.7 697.2 1162.6 697.1 1163.5 696.9 1164.4 696.8 1165.3 696.6 1166.2 696.5 1167.1 696.3 1168 696.1 1168.9 696 1168.9 696 1169.8 696 1170.7 695.9 1171.6 695.9 1172.5 695.9 1173.4 695.9 1174.3 695.9 1175.2 695.8 1176.1 695.8 1177 695.8 1177.9 695.8 1178.8 695.8 1179.7 695.8 1180.6 695.7 1181.5 695.7 1182.4 695.7 1183.3 695.7 1184.2 695.7 1185.1 695.6 1186 695.6 1186.9 695.6 1187.8 695.6 1188.7 695.6 1189.6 695.5 1190.5 695.5 1191.4 695.5 1192.3 695.5 1193.2 695.5 1194.1 695.4 1195 695.4 1195.9 695.4 1196.8 695.4 1197.7 695.4 1198.6 695.3 1199.5 695.3 1200.4 695.3 1201.3 695.3 1202.2 695.3 1203.1 695.3 1204 695.2 1204.4 695.2 1204.9 695.2 1205.8 695.2 1206.7 695.3 1207.6 695.3 1208.5 695.3 1209.4 695.3 1210.3 695.3 1211.2 695.4 1212.1 695.4 1213 695.4 1213.9 695.4 1214.8 695.4 1215.7 695.4 1216.6 695.5 1217.5 695.5 1218.4 695.5 1219.3 695.5 1220.2 695.5 1221.1 695.6 1222 695.6 1222.9 695.6 1223.8 695.6 1224.7 695.6 1225.6 695.6 1226.5 695.7 1227.4 695.7 1228.3 695.7 1229.2 695.7 1229.8 695.7 1230.1 695.7 1231 695.8 1231.9 695.8 1232.8 695.9 1233.7 695.9 1234.6 696 1235.5 696 1236.4 696.1 1237.3 696.1 1238.2 696.1 1239.1 696.2 1240 696.2 1240.9 696.3 1241.8 696.3 1242.7 696.4 1243.6 696.4 1244.5 696.5 1245.4 696.5 1246.3 696.6 1247.2 696.6 1248.1 696.6 1249 696.7 1249.9 696.7 1250.8 696.8 1251.7 696.8 1252.6 696.9 1253.5 696.9 1254.4 697 1255.3 697 1256.2 697 1257.1 697.1 1258 697.1 1258.9 697.2 1259.8 697.2 1260.3 697.3 1260.7 697.5 1261.6 698 1262.5 698.5 1263.4 699 1264.3 699.5 1265.2 700.1 1266.1 700.6 1267 701.1 1267.9 701.6 1267.9 701.6 1268.8 701.7 1269.7 701.8 1270.6 701.9 1271.5 702 1272.4 702 1273.3 702.1 1274.2 702.2 1275.1 702.3 1276 702.4 1276.9 702.5 1277.8 702.6 1278.7 702.7 1279.6 702.8 1280.5 702.9 1281.4 703 1282.3 703.1 1283.2 703.2 1284.1 703.3 1285 703.4 1285.9 703.5 1286.8 703.6 1286.9 703.6 1287.7 702.7 1288.6 701.8 1289.5 700.9 1290.4 699.9 1291.3 699 1292 698.3 1292.2 698.2 1293.1 697.9 1294 697.7 1294.9 697.4 1295.8 697.2 1296.7 696.9 1297.6 696.7 1298.5 696.4 1299.4 696.1 1300.3 695.9 1300.8 695.7 1301.2 695.7 1302.1 695.7 1303 695.7 1303.9 695.7 1304.8 695.7 1305.7 695.7 1306.6 695.7 1307.5 695.7 1308.4 695.7 1309.3 695.7 1310.2 695.7 1311.1 695.7 1312 695.7 1312.9 695.7 1313.8 695.7 1314.7 695.7 1315.6 695.7 1316.5 695.7 1317.4 695.7 1318.3 695.7 1319.2 695.7 1320.1 695.7 1321 695.7 1321.9 695.7 1322.8 695.7 1323.7 695.7 1324.6 695.7 1325.5 695.7 1326.4 695.7 1327.3 695.7 1328.2 695.7 1329.1 695.7 1330 695.7 1330.9 695.7 1331.8 695.7 1332.7 695.7 1333.6 695.7 1334.5 695.7 1335.4 695.7 1336.3 695.7 1337.2 695.7 1338.1 695.7 1339 695.7 1339.9 695.7 1340.8 695.7 1341.7 695.7 1342.6 695.7 1343.5 695.7 1344 695.7 1344.4 695.6 1345.3 695.4 1346.2 695.2 1347.1 695 1348 694.9 1348.5 694.7 1348.9 695.1 1349.8 696 1351.1 697.3 1352.3 703.2 1358.1 703.2 1360 700.7 1361.2 708.1 1362.5 762.6 1363.8 748.6 1365 781 1365.9 746.1 1367.2 768.9 1368.8 756.3 1370.1 738.5 1372 749.9 1373.9 720.7 1375.8 724.5 1376.8 715.7 1379.6 714.4 1381.5 699.8 1386 698.5 1390.4 696 1392.9 696.6 1394.8 699.4 1403.7 699.4 1405.6 696.9 1417.7 696.4 1419.6 701.7 1422.7 703.2 1424 700.4 1436.7 698.5 1441.8 696.3 1451.9 695.4 1461.4 697 1470.3 694.7 1560 695 1600 695.3 1650 696.2 1660 695.5 1700 695.8 1715.3 696" stroke="#000" stroke-width="2.5" fill="none" stroke-linejoin="round"/>
<rect x="122.5" y="672.6" width="1667.5" height="495.9" fill="none" stroke="#000" stroke-width="2.6"/>
<path d="M197.7 1168.5v-7.5M447.7 1168.5v-7.5M706 1168.5v-7.5M956 1168.5v-7.5M1214.4 1168.5v-7.5M1472.7 1168.5v-7.5M1706 1168.5v-7.5M122.5 771.3h7.5M122.5 904.3h7.5M122.5 1037.3h7.5M1790 1146h-7.5M1790 1055.9h-7.5M1790 965.8h-7.5M1790 875.7h-7.5M1790 785.6h-7.5M1790 695.5h-7.5" stroke="#000" stroke-width="2" fill="none"/>
<text x="80.4" y="896" font-size="28" font-style="italic" fill="#CC79A7" textLength="17.2" lengthAdjust="spacingAndGlyphs">T</text><text x="95.4" y="900.8" font-size="20.5" font-style="italic" fill="#CC79A7">f</text>
<text x="112.4" y="781.8" font-size="30.5" text-anchor="end" fill="#000" textLength="27.5" lengthAdjust="spacingAndGlyphs">20</text>
<text x="112.4" y="914.8" font-size="30.5" text-anchor="end" fill="#000" textLength="14" lengthAdjust="spacingAndGlyphs">0</text>
<text x="112.4" y="1047.8" font-size="30.5" text-anchor="end" fill="#000" textLength="49.6" lengthAdjust="spacingAndGlyphs">−20</text>
<text x="1798.8" y="1156.6" font-size="30.5" text-anchor="start" fill="#000" textLength="36.5" lengthAdjust="spacingAndGlyphs">0.0</text>
<text x="1798.8" y="1066.5" font-size="30.5" text-anchor="start" fill="#000" textLength="36.5" lengthAdjust="spacingAndGlyphs">0.2</text>
<text x="1798.8" y="976.4" font-size="30.5" text-anchor="start" fill="#000" textLength="36.5" lengthAdjust="spacingAndGlyphs">0.4</text>
<text x="1798.8" y="886.3" font-size="30.5" text-anchor="start" fill="#000" textLength="36.5" lengthAdjust="spacingAndGlyphs">0.6</text>
<text x="1798.8" y="796.2" font-size="30.5" text-anchor="start" fill="#000" textLength="36.5" lengthAdjust="spacingAndGlyphs">0.8</text>
<text x="1798.8" y="706.1" font-size="30.5" text-anchor="start" fill="#000" textLength="36.5" lengthAdjust="spacingAndGlyphs">1.0</text>
<text transform="translate(192 1192.3) rotate(-45)" font-size="30.5" text-anchor="end" textLength="85.5" lengthAdjust="spacingAndGlyphs">Sep 01</text>
<text transform="translate(442 1192.3) rotate(-45)" font-size="30.5" text-anchor="end" textLength="87.1" lengthAdjust="spacingAndGlyphs">Oct 01</text>
<text transform="translate(700.3 1192.3) rotate(-45)" font-size="30.5" text-anchor="end" textLength="92.1" lengthAdjust="spacingAndGlyphs">Nov 01</text>
<text transform="translate(950.3 1192.3) rotate(-45)" font-size="30.5" text-anchor="end" textLength="88.4" lengthAdjust="spacingAndGlyphs">Dec 01</text>
<text transform="translate(1208.7 1192.3) rotate(-45)" font-size="30.5" text-anchor="end" textLength="85.9" lengthAdjust="spacingAndGlyphs">Jan 01</text>
<text transform="translate(1467 1192.3) rotate(-45)" font-size="30.5" text-anchor="end" textLength="88.4" lengthAdjust="spacingAndGlyphs">Feb 01</text>
<text transform="translate(1700.3 1192.3) rotate(-45)" font-size="30.5" text-anchor="end" textLength="93" lengthAdjust="spacingAndGlyphs">Mar 01</text>
<text transform="translate(45.3 918.7) rotate(-90)" font-size="33" text-anchor="middle" textLength="242.5" lengthAdjust="spacingAndGlyphs">Temperature (°C)</text>
<text transform="translate(1866.8 919.6) rotate(-90)" font-size="33" text-anchor="middle" textLength="148" lengthAdjust="spacingAndGlyphs">Probability</text>
<text x="86.8" y="663.3" font-size="29.5" text-anchor="start" fill="#000" textLength="38.5" lengthAdjust="spacingAndGlyphs">(b)</text>
<path d="M160.9 925.9H211.6" stroke="#D4650F" stroke-width="4.2"/>
<path d="M160.9 964.7H211.6" stroke="#1B9E77" stroke-opacity="0.3" stroke-width="1.3"/>
<path d="M160.9 1004.3H211.6" stroke="#1B9E77" stroke-width="4.0"/>
<path d="M160.9 1043.2H211.6" stroke="#000" stroke-width="2.5"/>
<rect x="160.9" y="1070.2" width="50.7" height="20.3" fill="#EDF5FD"/>
<text x="226.4" y="935.9" font-size="26" text-anchor="start" fill="#000" textLength="189" lengthAdjust="spacingAndGlyphs">Soil temperature</text>
<text x="226.4" y="974" font-size="26" text-anchor="start" fill="#000" textLength="285.3" lengthAdjust="spacingAndGlyphs">Air temperature (hourly)</text>
<text x="226.4" y="1012.8" font-size="26" text-anchor="start" fill="#000" textLength="424.7" lengthAdjust="spacingAndGlyphs">Air temperature (7-day rolling mean)</text>
<text x="226.4" y="1051.7" font-size="26" text-anchor="start" fill="#000" textLength="229.4" lengthAdjust="spacingAndGlyphs">Freezing Probability</text>
<text x="226.4" y="1089.8" font-size="26" text-anchor="start" fill="#000" textLength="127" lengthAdjust="spacingAndGlyphs">Snow cover</text>
</g>
</svg>
</body></html>
